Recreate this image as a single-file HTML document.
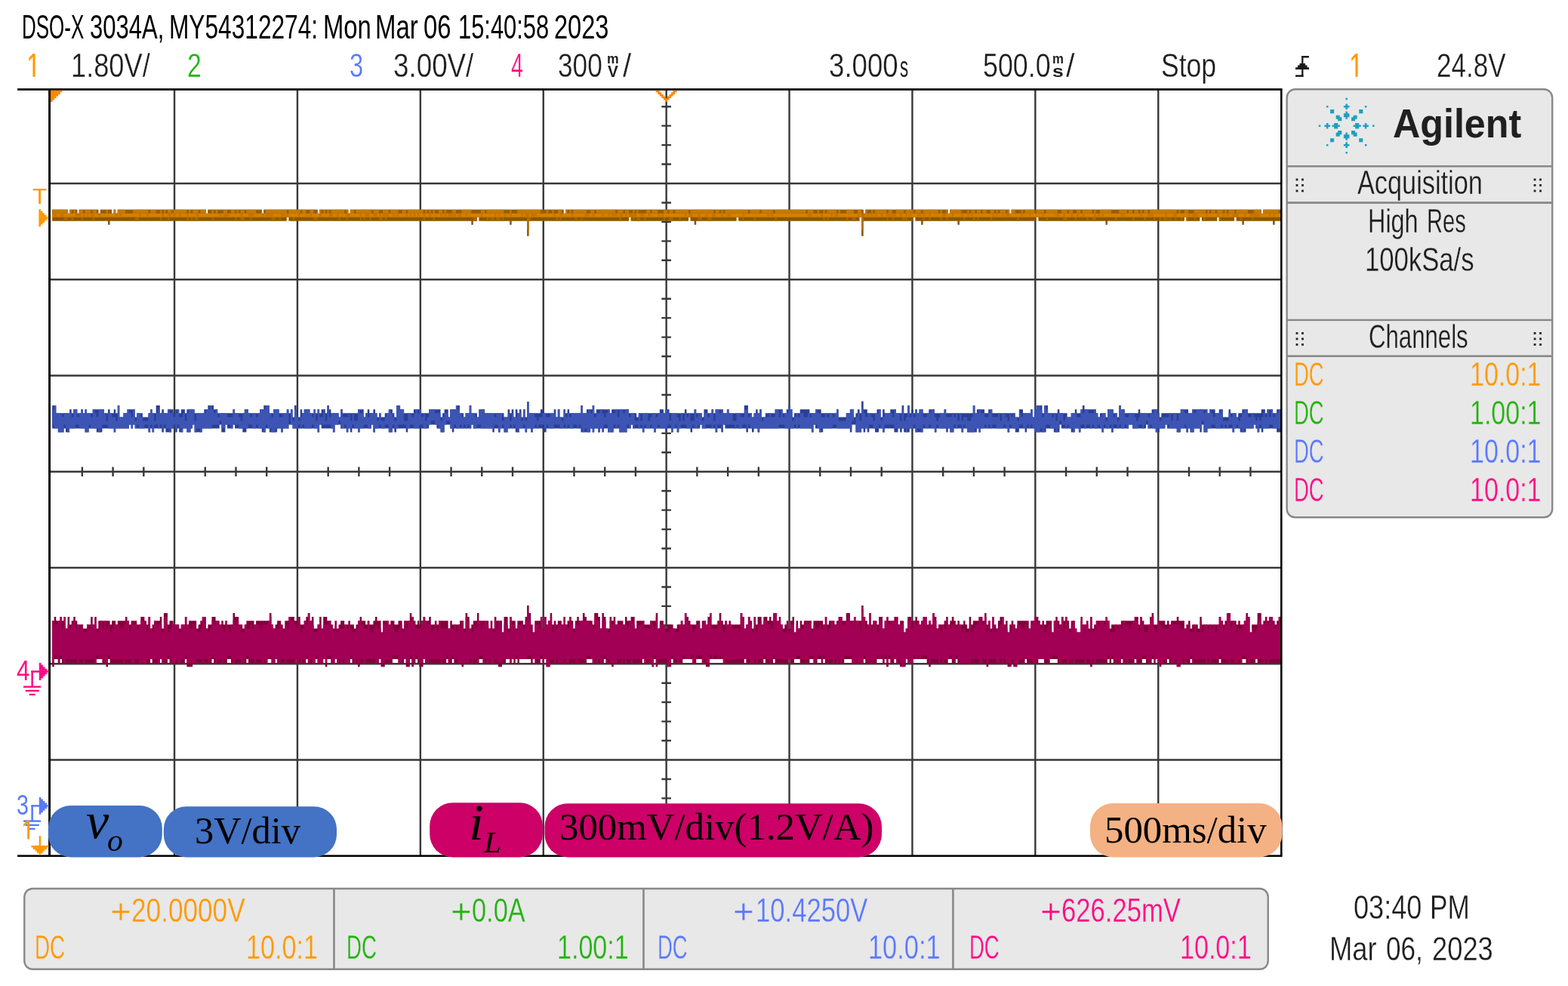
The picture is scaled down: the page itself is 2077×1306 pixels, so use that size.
<!DOCTYPE html>
<html lang="en">
<head>
<meta charset="utf-8">
<title>DSO-X 3034A</title>
<style>
html,body{margin:0;padding:0;background:#fff;}
body{width:2077px;height:1306px;overflow:hidden;position:relative;}
#scope{position:absolute;left:0;top:0;width:2077px;height:1306px;overflow:hidden;background:#fff;}
#scope svg{position:absolute;left:0;top:0;}
.t{position:absolute;white-space:pre;transform-origin:0 0;color:#1e1e1e;font-family:"Liberation Sans",sans-serif;font-weight:normal;}
.sb,.b{font-weight:bold;}
.r{font-family:"Liberation Serif",serif;}
.ri{font-family:"Liberation Serif",serif;font-style:italic;}
</style>
</head>
<body>
<div id="scope">
<svg width="2077" height="1306" viewBox="0 0 2077 1306">
<g id="panels">
<rect x="1704.6" y="118.3" width="351.6" height="567" rx="11" ry="11" fill="#e8e8e8" stroke="#888" stroke-width="2.4"/>
<rect x="1704" y="219" width="353" height="2.5" fill="#888"/>
<rect x="1704" y="267.1" width="353" height="2.8" fill="#888"/>
<rect x="1704" y="422.7" width="353" height="2.4" fill="#888"/>
<rect x="1704" y="470.4" width="353" height="2.6" fill="#888"/>
<rect x="32.3" y="1177" width="1647.4" height="106.8" rx="11" ry="11" fill="#e8e8e8" stroke="#888" stroke-width="2.4"/>
<rect x="441.15" y="1176.5" width="2.6" height="108" fill="#888"/>
<rect x="851.15" y="1176.5" width="2.6" height="108" fill="#888"/>
<rect x="1261.15" y="1176.5" width="2.6" height="108" fill="#888"/>
<g fill="#222"><rect x="1716.55" y="236.5" width="2.8" height="2.8"/><rect x="1716.55" y="244" width="2.8" height="2.8"/><rect x="1716.55" y="251.5" width="2.8" height="2.8"/><rect x="1724.05" y="236.5" width="2.8" height="2.8"/><rect x="1724.05" y="244" width="2.8" height="2.8"/><rect x="1724.05" y="251.5" width="2.8" height="2.8"/><rect x="2031.65" y="236.5" width="2.8" height="2.8"/><rect x="2031.65" y="244" width="2.8" height="2.8"/><rect x="2031.65" y="251.5" width="2.8" height="2.8"/><rect x="2039.15" y="236.5" width="2.8" height="2.8"/><rect x="2039.15" y="244" width="2.8" height="2.8"/><rect x="2039.15" y="251.5" width="2.8" height="2.8"/><rect x="1716.55" y="440" width="2.8" height="2.8"/><rect x="1716.55" y="447.5" width="2.8" height="2.8"/><rect x="1716.55" y="455" width="2.8" height="2.8"/><rect x="1724.05" y="440" width="2.8" height="2.8"/><rect x="1724.05" y="447.5" width="2.8" height="2.8"/><rect x="1724.05" y="455" width="2.8" height="2.8"/><rect x="2031.65" y="440" width="2.8" height="2.8"/><rect x="2031.65" y="447.5" width="2.8" height="2.8"/><rect x="2031.65" y="455" width="2.8" height="2.8"/><rect x="2039.15" y="440" width="2.8" height="2.8"/><rect x="2039.15" y="447.5" width="2.8" height="2.8"/><rect x="2039.15" y="455" width="2.8" height="2.8"/></g>
<path fill="#1f9fc1" d="M1759.47 167.97L1759.47 170.52L1756.93 170.52L1756.93 167.97L1754.38 167.97L1754.38 165.43L1756.93 165.43L1756.93 162.88L1759.47 162.88L1759.47 165.43L1762.02 165.43L1762.02 167.97ZM1792.56 165.43L1795.1 165.43L1795.1 162.88L1800.19 162.88L1800.19 165.43L1802.74 165.43L1802.74 167.97L1800.19 167.97L1800.19 170.52L1795.1 170.52L1795.1 167.97L1792.56 167.97ZM1797.65 152.7L1797.65 157.79L1795.1 157.79L1795.1 160.34L1790.01 160.34L1790.01 155.25L1792.56 155.25L1792.56 152.7ZM1756.93 190.88L1759.47 190.88L1759.47 193.42L1756.93 193.42ZM1795.1 175.61L1797.65 175.61L1797.65 180.7L1792.56 180.7L1792.56 178.15L1790.01 178.15L1790.01 173.06L1795.1 173.06ZM1767.11 170.52L1767.11 167.97L1764.56 167.97L1764.56 165.43L1767.11 165.43L1767.11 162.88L1772.2 162.88L1772.2 165.43L1774.74 165.43L1774.74 167.97L1772.2 167.97L1772.2 170.52ZM1746.75 165.43L1749.29 165.43L1749.29 167.97L1746.75 167.97ZM1784.92 150.16L1787.47 150.16L1787.47 155.25L1784.92 155.25L1784.92 157.79L1782.38 157.79L1782.38 155.25L1779.83 155.25L1779.83 150.16L1782.38 150.16L1782.38 147.61L1784.92 147.61ZM1762.02 145.07L1767.11 145.07L1767.11 150.16L1762.02 150.16ZM1782.38 201.06L1784.92 201.06L1784.92 203.6L1782.38 203.6ZM1774.74 152.7L1774.74 155.25L1777.29 155.25L1777.29 160.34L1772.2 160.34L1772.2 157.79L1769.65 157.79L1769.65 152.7ZM1784.92 193.42L1784.92 195.97L1782.38 195.97L1782.38 193.42L1779.83 193.42L1779.83 190.88L1782.38 190.88L1782.38 188.33L1784.92 188.33L1784.92 190.88L1787.47 190.88L1787.47 193.42ZM1818.01 165.43L1820.55 165.43L1820.55 167.97L1818.01 167.97ZM1805.28 150.16L1800.19 150.16L1800.19 145.07L1805.28 145.07ZM1807.83 139.98L1810.37 139.98L1810.37 142.52L1807.83 142.52ZM1782.38 137.43L1784.92 137.43L1784.92 139.98L1787.47 139.98L1787.47 142.52L1784.92 142.52L1784.92 145.07L1782.38 145.07L1782.38 142.52L1779.83 142.52L1779.83 139.98L1782.38 139.98ZM1769.65 180.7L1769.65 175.61L1772.2 175.61L1772.2 173.06L1777.29 173.06L1777.29 178.15L1774.74 178.15L1774.74 180.7ZM1784.92 183.24L1784.92 185.79L1782.38 185.79L1782.38 183.24L1779.83 183.24L1779.83 178.15L1782.38 178.15L1782.38 175.61L1784.92 175.61L1784.92 178.15L1787.47 178.15L1787.47 183.24ZM1805.28 188.33L1800.19 188.33L1800.19 183.24L1805.28 183.24ZM1756.93 139.98L1759.47 139.98L1759.47 142.52L1756.93 142.52ZM1767.11 183.24L1767.11 188.33L1762.02 188.33L1762.02 183.24ZM1810.37 165.43L1812.92 165.43L1812.92 167.97L1810.37 167.97L1810.37 170.52L1807.83 170.52L1807.83 167.97L1805.28 167.97L1805.28 165.43L1807.83 165.43L1807.83 162.88L1810.37 162.88ZM1782.38 129.8L1784.92 129.8L1784.92 132.34L1782.38 132.34ZM1807.83 190.88L1810.37 190.88L1810.37 193.42L1807.83 193.42Z"/>
</g>
<g id="grid">
<g stroke="#383838" stroke-width="2.4" fill="none">
<path d="M231.05 118.45V1133.65M393.95 118.45V1133.65M556.85 118.45V1133.65M719.75 118.45V1133.65M882.65 118.45V1133.65M1045.55 118.45V1133.65M1208.45 118.45V1133.65M1371.35 118.45V1133.65M1534.25 118.45V1133.65M65.55 243H1697.3M65.55 370.25H1697.3M65.55 497.5H1697.3M65.55 624.75H1697.3M65.55 752H1697.3M65.55 879.25H1697.3M65.55 1006.5H1697.3"/>
<path d="M876.35 599.3H888.95M876.35 573.85H888.95M876.35 548.4H888.95M876.35 522.95H888.95M876.35 472.05H888.95M876.35 446.6H888.95M876.35 421.15H888.95M876.35 395.7H888.95M876.35 344.8H888.95M876.35 319.35H888.95M876.35 293.9H888.95M876.35 268.45H888.95M876.35 217.55H888.95M876.35 192.1H888.95M876.35 166.65H888.95M876.35 141.2H888.95M876.35 650.2H888.95M876.35 675.65H888.95M876.35 701.1H888.95M876.35 726.55H888.95M876.35 777.45H888.95M876.35 802.9H888.95M876.35 828.35H888.95M876.35 853.8H888.95M876.35 904.7H888.95M876.35 930.15H888.95M876.35 955.6H888.95M876.35 981.05H888.95M876.35 1031.95H888.95M876.35 1057.4H888.95M876.35 1082.85H888.95M876.35 1108.3H888.95M841.93 618.5V631M801.2 618.5V631M760.48 618.5V631M679.02 618.5V631M638.3 618.5V631M597.57 618.5V631M516.12 618.5V631M475.4 618.5V631M434.67 618.5V631M353.22 618.5V631M312.5 618.5V631M271.77 618.5V631M190.32 618.5V631M149.6 618.5V631M108.87 618.5V631M923.38 618.5V631M964.1 618.5V631M1004.83 618.5V631M1086.28 618.5V631M1127 618.5V631M1167.72 618.5V631M1249.17 618.5V631M1289.9 618.5V631M1330.62 618.5V631M1412.07 618.5V631M1452.8 618.5V631M1493.52 618.5V631M1574.97 618.5V631M1615.7 618.5V631M1656.42 618.5V631"/>
</g>
</g>
<g id="waves">
<path d="M69.2 277.7H89.6V282.7H92.1V277.7H102.3V282.7H104.8V277.7H130.3V282.7H132.9V277.7H148.1V282.7H150.7V277.7H153.2V282.7H155.8V277.7H272.9V282.7H275.4V277.7H346.7V282.7H349.3V277.7H420.6V282.7H423.1V277.7H461.3V282.7H463.9V277.7H746.5V282.7H749V277.7H1143.7V282.7H1146.2V277.7H1255.7V282.7H1258.3V277.7H1337.2V282.7H1339.7V277.7H1670.7V282.7H1673.3V277.7H1696.2V292.7H1688.6V297.8H1686V292.7H1647.8V297.8H1645.3V292.7H1637.6V287.7H1635.1V292.7H1614.7V287.7H1612.2V292.7H1591.8V287.7H1589.3V292.7H1571.4V287.7H1568.9V292.7H1467V297.8H1464.5V292.7H1375.4V287.7H1372.8V292.7H1271V297.8H1268.4V292.7H1222.6V297.8H1220.1V292.7H1212.4V287.7H1209.9V292.7H1143.7V312.7H1141.1V287.7H1138.6V292.7H978.2V287.7H975.6V292.7H922.2V297.8H919.6V292.7H914.5V287.7H912V292.7H835.6V287.7H833V292.7H700.6V312.7H698.1V292.7H677.7V297.8H675.2V292.7H634.4V287.7H631.9V292.7H626.8V297.8H624.3V292.7H382.4V287.7H379.8V292.7H145.6V297.8H143V292.7H69.2Z" fill="#8e5600"/>
<path d="M69.2 277.7H89.6V282.7H69.2ZM92.1 277.7H102.3V282.7H92.1ZM104.8 277.7H130.3V282.7H104.8ZM132.9 277.7H148.1V282.7H132.9ZM150.7 277.7H153.2V282.7H150.7ZM155.8 277.7H272.9V282.7H155.8ZM275.4 277.7H346.7V282.7H275.4ZM349.3 277.7H420.6V282.7H349.3ZM423.1 277.7H461.3V282.7H423.1ZM463.9 277.7H746.5V282.7H463.9ZM749 277.7H1143.7V282.7H749ZM1146.2 277.7H1255.7V282.7H1146.2ZM1258.3 277.7H1337.2V282.7H1258.3ZM1339.7 277.7H1670.7V282.7H1339.7ZM1673.3 277.7H1696.2V282.7H1673.3Z" fill="#9a5c00"/>
<path d="M69.2 277.7H89.6V282.7H69.2ZM92.1 277.7H94.7V282.7H92.1ZM97.2 277.7H99.8V282.7H97.2ZM104.8 277.7H109.9V282.7H104.8ZM112.5 277.7H120.1V282.7H112.5ZM122.7 277.7H127.8V282.7H122.7ZM140.5 277.7H143V282.7H140.5ZM150.7 277.7H153.2V282.7H150.7ZM155.8 277.7H166V282.7H155.8ZM176.1 277.7H196.5V282.7H176.1ZM199.1 277.7H206.7V282.7H199.1ZM211.8 277.7H214.3V282.7H211.8ZM216.9 277.7H219.4V282.7H216.9ZM222 277.7H227.1V282.7H222ZM229.6 277.7H247.4V282.7H229.6ZM250 277.7H252.5V282.7H250ZM255.1 277.7H262.7V282.7H255.1ZM265.3 277.7H272.9V282.7H265.3ZM280.5 277.7H283.1V282.7H280.5ZM285.6 277.7H288.2V282.7H285.6ZM295.8 277.7H300.9V282.7H295.8ZM306 277.7H311.1V282.7H306ZM313.6 277.7H316.2V282.7H313.6ZM318.7 277.7H323.8V282.7H318.7ZM326.4 277.7H339.1V282.7H326.4ZM351.8 277.7H379.8V282.7H351.8ZM382.4 277.7H397.7V282.7H382.4ZM400.2 277.7H405.3V282.7H400.2ZM410.4 277.7H415.5V282.7H410.4ZM423.1 277.7H425.7V282.7H423.1ZM428.2 277.7H430.8V282.7H428.2ZM433.3 277.7H435.8V282.7H433.3ZM438.4 277.7H456.2V282.7H438.4ZM458.8 277.7H461.3V282.7H458.8ZM463.9 277.7H468.9V282.7H463.9ZM471.5 277.7H491.9V282.7H471.5ZM494.4 277.7H502V282.7H494.4ZM507.1 277.7H514.8V282.7H507.1ZM517.3 277.7H527.5V282.7H517.3ZM532.6 277.7H537.7V282.7H532.6ZM540.2 277.7H560.6V282.7H540.2ZM563.2 277.7H565.7V282.7H563.2ZM568.2 277.7H570.8V282.7H568.2ZM573.3 277.7H575.9V282.7H573.3ZM581 277.7H586.1V282.7H581ZM588.6 277.7H591.2V282.7H588.6ZM598.8 277.7H603.9V282.7H598.8ZM611.5 277.7H624.3V282.7H611.5ZM637 277.7H642.1V282.7H637ZM644.6 277.7H667.5V282.7H644.6ZM675.2 277.7H677.7V282.7H675.2ZM685.4 277.7H715.9V282.7H685.4ZM723.6 277.7H726.1V282.7H723.6ZM731.2 277.7H733.7V282.7H731.2ZM738.8 277.7H743.9V282.7H738.8ZM749 277.7H751.6V282.7H749ZM754.1 277.7H756.7V282.7H754.1ZM759.2 277.7H777V282.7H759.2ZM782.1 277.7H787.2V282.7H782.1ZM789.8 277.7H815.2V282.7H789.8ZM817.8 277.7H825.4V282.7H817.8ZM828 277.7H833V282.7H828ZM838.1 277.7H840.7V282.7H838.1ZM843.2 277.7H845.8V282.7H843.2ZM856 277.7H861.1V282.7H856ZM863.6 277.7H871.2V282.7H863.6ZM878.9 277.7H884V282.7H878.9ZM886.5 277.7H891.6V282.7H886.5ZM894.2 277.7H912V282.7H894.2ZM914.5 277.7H945.1V282.7H914.5ZM947.6 277.7H952.7V282.7H947.6ZM955.3 277.7H957.8V282.7H955.3ZM960.4 277.7H990.9V282.7H960.4ZM993.5 277.7H1006.2V282.7H993.5ZM1008.7 277.7H1024V282.7H1008.7ZM1026.6 277.7H1067.3V282.7H1026.6ZM1069.8 277.7H1077.5V282.7H1069.8ZM1082.6 277.7H1085.1V282.7H1082.6ZM1090.2 277.7H1092.8V282.7H1090.2ZM1095.3 277.7H1108V282.7H1095.3ZM1110.6 277.7H1113.1V282.7H1110.6ZM1120.8 277.7H1131V282.7H1120.8ZM1136 277.7H1141.1V282.7H1136ZM1146.2 277.7H1148.8V282.7H1146.2ZM1153.9 277.7H1156.4V282.7H1153.9ZM1159 277.7H1174.2V282.7H1159ZM1176.8 277.7H1181.9V282.7H1176.8ZM1187 277.7H1197.2V282.7H1187ZM1199.7 277.7H1209.9V282.7H1199.7ZM1212.4 277.7H1220.1V282.7H1212.4ZM1222.6 277.7H1243V282.7H1222.6ZM1245.5 277.7H1248.1V282.7H1245.5ZM1253.2 277.7H1255.7V282.7H1253.2ZM1258.3 277.7H1273.5V282.7H1258.3ZM1281.2 277.7H1283.7V282.7H1281.2ZM1286.3 277.7H1291.4V282.7H1286.3ZM1293.9 277.7H1299V282.7H1293.9ZM1301.5 277.7H1306.6V282.7H1301.5ZM1311.7 277.7H1316.8V282.7H1311.7ZM1319.4 277.7H1321.9V282.7H1319.4ZM1324.5 277.7H1332.1V282.7H1324.5ZM1334.6 277.7H1337.2V282.7H1334.6ZM1339.7 277.7H1344.8V282.7H1339.7ZM1352.5 277.7H1355V282.7H1352.5ZM1357.6 277.7H1370.3V282.7H1357.6ZM1372.8 277.7H1383V282.7H1372.8ZM1385.6 277.7H1400.8V282.7H1385.6ZM1405.9 277.7H1413.6V282.7H1405.9ZM1416.1 277.7H1421.2V282.7H1416.1ZM1426.3 277.7H1431.4V282.7H1426.3ZM1433.9 277.7H1446.7V282.7H1433.9ZM1449.2 277.7H1451.8V282.7H1449.2ZM1456.9 277.7H1472.1V282.7H1456.9ZM1482.3 277.7H1492.5V282.7H1482.3ZM1495.1 277.7H1500.1V282.7H1495.1ZM1502.7 277.7H1507.8V282.7H1502.7ZM1510.3 277.7H1512.9V282.7H1510.3ZM1515.4 277.7H1520.5V282.7H1515.4ZM1523.1 277.7H1558.7V282.7H1523.1ZM1561.3 277.7H1563.8V282.7H1561.3ZM1568.9 277.7H1574V282.7H1568.9ZM1581.6 277.7H1596.9V282.7H1581.6ZM1599.4 277.7H1602V282.7H1599.4ZM1604.5 277.7H1609.6V282.7H1604.5ZM1612.2 277.7H1619.8V282.7H1612.2ZM1622.4 277.7H1624.9V282.7H1622.4ZM1627.5 277.7H1635.1V282.7H1627.5ZM1637.6 277.7H1652.9V282.7H1637.6ZM1660.6 277.7H1670.7V282.7H1660.6ZM1673.3 277.7H1693.7V282.7H1673.3Z" fill="#c67800"/>
<path d="M84.5 287.7H89.6V292.7H84.5ZM94.7 287.7H97.2V292.7H94.7ZM107.4 287.7H109.9V292.7H107.4ZM122.7 287.7H125.2V292.7H122.7ZM178.7 287.7H183.8V292.7H178.7ZM211.8 287.7H214.3V292.7H211.8ZM222 287.7H224.5V292.7H222ZM247.4 287.7H250V292.7H247.4ZM252.5 287.7H255.1V292.7H252.5ZM257.6 287.7H262.7V292.7H257.6ZM280.5 287.7H283.1V292.7H280.5ZM311.1 287.7H313.6V292.7H311.1ZM318.7 287.7H323.8V292.7H318.7ZM331.5 287.7H334V292.7H331.5ZM359.5 287.7H364.6V292.7H359.5ZM369.6 287.7H372.2V292.7H369.6ZM387.5 287.7H390V292.7H387.5ZM415.5 287.7H420.6V292.7H415.5ZM448.6 287.7H451.1V292.7H448.6ZM458.8 287.7H461.3V292.7H458.8ZM476.6 287.7H479.1V292.7H476.6ZM481.7 287.7H484.2V292.7H481.7ZM489.3 287.7H491.9V292.7H489.3ZM502 287.7H507.1V292.7H502ZM509.7 287.7H512.2V292.7H509.7ZM560.6 287.7H563.2V292.7H560.6ZM573.3 287.7H575.9V292.7H573.3ZM626.8 287.7H631.9V292.7H626.8ZM644.6 287.7H647.2V292.7H644.6ZM649.7 287.7H654.8V292.7H649.7ZM657.4 287.7H662.5V292.7H657.4ZM665 287.7H667.5V292.7H665ZM700.6 287.7H703.2V292.7H700.6ZM736.3 287.7H738.8V292.7H736.3ZM741.4 287.7H743.9V292.7H741.4ZM761.8 287.7H764.3V292.7H761.8ZM769.4 287.7H771.9V292.7H769.4ZM820.3 287.7H822.9V292.7H820.3ZM838.1 287.7H840.7V292.7H838.1ZM843.2 287.7H848.3V292.7H843.2ZM853.4 287.7H856V292.7H853.4ZM878.9 287.7H881.4V292.7H878.9ZM886.5 287.7H891.6V292.7H886.5ZM899.3 287.7H901.8V292.7H899.3ZM924.7 287.7H929.8V292.7H924.7ZM937.4 287.7H942.5V292.7H937.4ZM983.3 287.7H985.8V292.7H983.3ZM998.6 287.7H1001.1V292.7H998.6ZM1026.6 287.7H1029.1V292.7H1026.6ZM1090.2 287.7H1092.8V292.7H1090.2ZM1095.3 287.7H1097.9V292.7H1095.3ZM1120.8 287.7H1123.3V292.7H1120.8ZM1128.4 287.7H1133.5V292.7H1128.4ZM1174.2 287.7H1176.8V292.7H1174.2ZM1181.9 287.7H1184.4V292.7H1181.9ZM1194.6 287.7H1202.2V292.7H1194.6ZM1222.6 287.7H1225.2V292.7H1222.6ZM1230.3 287.7H1232.8V292.7H1230.3ZM1245.5 287.7H1248.1V292.7H1245.5ZM1253.2 287.7H1255.7V292.7H1253.2ZM1276.1 287.7H1278.6V292.7H1276.1ZM1288.8 287.7H1291.4V292.7H1288.8ZM1293.9 287.7H1296.5V292.7H1293.9ZM1311.7 287.7H1314.3V292.7H1311.7ZM1347.4 287.7H1349.9V292.7H1347.4ZM1385.6 287.7H1388.1V292.7H1385.6ZM1408.5 287.7H1413.6V292.7H1408.5ZM1423.8 287.7H1426.3V292.7H1423.8ZM1439 287.7H1441.6V292.7H1439ZM1446.7 287.7H1451.8V292.7H1446.7ZM1477.2 287.7H1479.8V292.7H1477.2ZM1500.1 287.7H1502.7V292.7H1500.1ZM1515.4 287.7H1518V292.7H1515.4ZM1528.2 287.7H1530.7V292.7H1528.2ZM1535.8 287.7H1538.3V292.7H1535.8ZM1540.9 287.7H1546V292.7H1540.9ZM1548.5 287.7H1551.1V292.7H1548.5ZM1556.2 287.7H1558.7V292.7H1556.2ZM1563.8 287.7H1566.3V292.7H1563.8ZM1571.4 287.7H1574V292.7H1571.4ZM1581.6 287.7H1584.2V292.7H1581.6ZM1594.4 287.7H1596.9V292.7H1594.4ZM1614.7 287.7H1617.3V292.7H1614.7ZM1642.7 287.7H1645.3V292.7H1642.7ZM1658 287.7H1660.6V292.7H1658Z" fill="#a86600"/>
<rect x="69.2" y="282.7" width="1627" height="5" fill="#d48000"/>
<path d="M71.7 282.7H74.3V287.7H71.7ZM79.4 282.7H84.5V287.7H79.4ZM99.8 282.7H107.4V287.7H99.8ZM109.9 282.7H112.5V287.7H109.9ZM115 282.7H117.6V287.7H115ZM120.1 282.7H125.2V287.7H120.1ZM130.3 282.7H132.9V287.7H130.3ZM153.2 282.7H155.8V287.7H153.2ZM158.3 282.7H160.9V287.7H158.3ZM183.8 282.7H186.3V287.7H183.8ZM194 282.7H196.5V287.7H194ZM214.3 282.7H216.9V287.7H214.3ZM222 282.7H227.1V287.7H222ZM229.6 282.7H232.2V287.7H229.6ZM237.2 282.7H239.8V287.7H237.2ZM247.4 282.7H250V287.7H247.4ZM260.2 282.7H262.7V287.7H260.2ZM290.7 282.7H293.3V287.7H290.7ZM295.8 282.7H303.4V287.7H295.8ZM318.7 282.7H321.3V287.7H318.7ZM328.9 282.7H336.5V287.7H328.9ZM346.7 282.7H349.3V287.7H346.7ZM351.8 282.7H362V287.7H351.8ZM372.2 282.7H377.3V287.7H372.2ZM379.8 282.7H382.4V287.7H379.8ZM395.1 282.7H397.7V287.7H395.1ZM405.3 282.7H407.8V287.7H405.3ZM410.4 282.7H412.9V287.7H410.4ZM423.1 282.7H425.7V287.7H423.1ZM435.8 282.7H440.9V287.7H435.8ZM446 282.7H448.6V287.7H446ZM458.8 282.7H463.9V287.7H458.8ZM476.6 282.7H479.1V287.7H476.6ZM484.2 282.7H489.3V287.7H484.2ZM494.4 282.7H499.5V287.7H494.4ZM502 282.7H504.6V287.7H502ZM507.1 282.7H514.8V287.7H507.1ZM519.9 282.7H522.4V287.7H519.9ZM525 282.7H527.5V287.7H525ZM537.7 282.7H540.2V287.7H537.7ZM542.8 282.7H545.3V287.7H542.8ZM547.9 282.7H550.4V287.7H547.9ZM553 282.7H555.5V287.7H553ZM560.6 282.7H563.2V287.7H560.6ZM568.2 282.7H570.8V287.7H568.2ZM583.5 282.7H586.1V287.7H583.5ZM588.6 282.7H591.2V287.7H588.6ZM593.7 282.7H603.9V287.7H593.7ZM606.4 282.7H611.5V287.7H606.4ZM616.6 282.7H619.2V287.7H616.6ZM637 282.7H639.5V287.7H637ZM654.8 282.7H657.4V287.7H654.8ZM659.9 282.7H662.5V287.7H659.9ZM667.5 282.7H670.1V287.7H667.5ZM675.2 282.7H677.7V287.7H675.2ZM690.5 282.7H693V287.7H690.5ZM695.6 282.7H698.1V287.7H695.6ZM703.2 282.7H710.8V287.7H703.2ZM733.7 282.7H736.3V287.7H733.7ZM741.4 282.7H743.9V287.7H741.4ZM756.7 282.7H759.2V287.7H756.7ZM774.5 282.7H779.6V287.7H774.5ZM784.7 282.7H787.2V287.7H784.7ZM797.4 282.7H799.9V287.7H797.4ZM805 282.7H807.6V287.7H805ZM810.1 282.7H817.8V287.7H810.1ZM820.3 282.7H825.4V287.7H820.3ZM828 282.7H830.5V287.7H828ZM833 282.7H843.2V287.7H833ZM848.3 282.7H853.4V287.7H848.3ZM858.5 282.7H861.1V287.7H858.5ZM871.2 282.7H873.8V287.7H871.2ZM876.3 282.7H878.9V287.7H876.3ZM906.9 282.7H909.4V287.7H906.9ZM912 282.7H917.1V287.7H912ZM924.7 282.7H927.3V287.7H924.7ZM934.9 282.7H937.4V287.7H934.9ZM942.5 282.7H947.6V287.7H942.5ZM955.3 282.7H957.8V287.7H955.3ZM962.9 282.7H968V287.7H962.9ZM983.3 282.7H985.8V287.7H983.3ZM1016.4 282.7H1018.9V287.7H1016.4ZM1021.5 282.7H1024V287.7H1021.5ZM1069.8 282.7H1074.9V287.7H1069.8ZM1087.7 282.7H1090.2V287.7H1087.7ZM1100.4 282.7H1102.9V287.7H1100.4ZM1105.5 282.7H1110.6V287.7H1105.5ZM1136 282.7H1138.6V287.7H1136ZM1141.1 282.7H1146.2V287.7H1141.1ZM1148.8 282.7H1151.3V287.7H1148.8ZM1153.9 282.7H1156.4V287.7H1153.9ZM1159 282.7H1161.5V287.7H1159ZM1166.6 282.7H1169.1V287.7H1166.6ZM1174.2 282.7H1187V287.7H1174.2ZM1192.1 282.7H1194.6V287.7H1192.1ZM1199.7 282.7H1202.2V287.7H1199.7ZM1204.8 282.7H1207.3V287.7H1204.8ZM1215 282.7H1220.1V287.7H1215ZM1222.6 282.7H1225.2V287.7H1222.6ZM1230.3 282.7H1232.8V287.7H1230.3ZM1248.1 282.7H1253.2V287.7H1248.1ZM1260.8 282.7H1263.4V287.7H1260.8ZM1273.5 282.7H1276.1V287.7H1273.5ZM1281.2 282.7H1283.7V287.7H1281.2ZM1286.3 282.7H1288.8V287.7H1286.3ZM1314.3 282.7H1316.8V287.7H1314.3ZM1319.4 282.7H1321.9V287.7H1319.4ZM1327 282.7H1329.6V287.7H1327ZM1332.1 282.7H1337.2V287.7H1332.1ZM1352.5 282.7H1355V287.7H1352.5ZM1362.7 282.7H1365.2V287.7H1362.7ZM1380.5 282.7H1383V287.7H1380.5ZM1398.3 282.7H1403.4V287.7H1398.3ZM1408.5 282.7H1411V287.7H1408.5ZM1418.7 282.7H1421.2V287.7H1418.7ZM1426.3 282.7H1428.9V287.7H1426.3ZM1433.9 282.7H1436.5V287.7H1433.9ZM1449.2 282.7H1451.8V287.7H1449.2ZM1454.3 282.7H1456.9V287.7H1454.3ZM1459.4 282.7H1462V287.7H1459.4ZM1484.9 282.7H1490V287.7H1484.9ZM1510.3 282.7H1512.9V287.7H1510.3ZM1520.5 282.7H1528.2V287.7H1520.5ZM1543.4 282.7H1546V287.7H1543.4ZM1553.6 282.7H1558.7V287.7H1553.6ZM1574 282.7H1576.5V287.7H1574ZM1579.1 282.7H1586.7V287.7H1579.1ZM1596.9 282.7H1599.4V287.7H1596.9ZM1612.2 282.7H1614.7V287.7H1612.2ZM1619.8 282.7H1622.4V287.7H1619.8ZM1624.9 282.7H1627.5V287.7H1624.9ZM1632.5 282.7H1640.2V287.7H1632.5ZM1647.8 282.7H1650.4V287.7H1647.8ZM1655.5 282.7H1668.2V287.7H1655.5ZM1680.9 282.7H1683.5V287.7H1680.9ZM1686 282.7H1688.6V287.7H1686Z" fill="#c27500"/>
<rect x="698.1" y="282.7" width="2.5" height="22" fill="#b86e00"/>
<rect x="1141.1" y="282.7" width="2.5" height="22" fill="#b86e00"/>
<path d="M69.2 537.1H74.3V547.3H92.1V542.2H94.7V547.3H97.2V542.2H102.3V547.3H107.4V542.2H109.9V547.3H112.5V542.2H115V547.3H122.7V542.2H137.9V547.3H143V542.2H145.6V547.3H150.7V542.2H153.2V547.3H155.8V537.1H158.3V552.4H163.4V547.3H168.5V542.2H178.7V552.4H181.2V547.3H188.9V552.4H196.5V547.3H199.1V542.2H201.6V547.3H206.7V537.1H211.8V547.3H214.3V542.2H216.9V547.3H222V542.2H229.6V547.3H232.2V542.2H237.2V547.3H239.8V542.2H244.9V547.3H247.4V542.2H257.6V547.3H270.3V542.2H275.4V537.1H283.1V542.2H288.2V547.3H308.5V542.2H311.1V547.3H323.8V542.2H328.9V547.3H344.2V542.2H349.3V537.1H356.9V547.3H362V542.2H369.6V547.3H379.8V542.2H382.4V547.3H384.9V542.2H387.5V552.4H390V537.1H392.6V552.4H397.7V542.2H400.2V547.3H402.7V542.2H410.4V547.3H415.5V542.2H418V547.3H420.6V542.2H423.1V547.3H425.7V542.2H430.8V547.3H433.3V537.1H435.8V542.2H438.4V547.3H448.6V552.4H451.1V542.2H453.7V547.3H474V542.2H481.7V552.4H484.2V547.3H486.8V542.2H489.3V547.3H494.4V542.2H497V547.3H499.5V552.4H502V547.3H504.6V552.4H509.7V547.3H514.8V542.2H519.9V547.3H522.4V552.4H525V537.1H530.1V542.2H535.1V547.3H547.9V542.2H558.1V547.3H568.2V542.2H583.5V552.4H586.1V547.3H588.6V542.2H593.7V552.4H596.3V542.2H603.9V537.1H609V547.3H614.1V552.4H616.6V547.3H621.7V537.1H624.3V547.3H631.9V552.4H634.4V542.2H642.1V547.3H667.5V552.4H672.6V542.2H675.2V547.3H677.7V542.2H680.3V552.4H682.8V542.2H685.4V547.3H687.9V542.2H690.5V552.4H693V542.2H695.6V552.4H698.1V532H700.6V547.3H715.9V542.2H721V547.3H733.7V542.2H736.3V552.4H738.8V542.2H741.4V552.4H746.5V542.2H749V547.3H751.6V542.2H754.1V547.3H769.4V537.1H771.9V547.3H777V542.2H784.7V537.1H787.2V547.3H789.8V542.2H807.6V547.3H810.1V542.2H833V547.3H843.2V552.4H845.8V547.3H873.8V542.2H878.9V547.3H881.4V542.2H886.5V547.3H906.9V542.2H909.4V547.3H919.6V542.2H922.2V547.3H929.8V552.4H932.4V542.2H937.4V547.3H942.5V542.2H945.1V547.3H947.6V542.2H957.8V547.3H962.9V542.2H965.5V547.3H985.8V537.1H990.9V547.3H996V552.4H998.6V547.3H1001.1V542.2H1003.6V547.3H1006.2V542.2H1008.7V552.4H1013.8V547.3H1026.6V542.2H1036.7V547.3H1041.8V542.2H1044.4V537.1H1046.9V542.2H1049.5V552.4H1052V547.3H1059.7V542.2H1072.4V547.3H1080V542.2H1087.7V547.3H1108V542.2H1110.6V552.4H1120.8V547.3H1125.9V542.2H1131V552.4H1133.5V547.3H1136V542.2H1138.6V547.3H1141.1V531.5H1143.7V542.2H1148.8V547.3H1161.5V542.2H1166.6V552.4H1169.1V542.2H1171.7V547.3H1179.3V542.2H1187V547.3H1194.6V537.1H1197.2V547.3H1202.2V537.1H1204.8V547.3H1207.3V542.2H1209.9V547.3H1212.4V542.2H1215V547.3H1217.5V542.2H1222.6V547.3H1230.3V542.2H1237.9V547.3H1250.6V542.2H1253.2V547.3H1288.8V537.1H1291.4V547.3H1293.9V542.2H1304.1V547.3H1309.2V542.2H1314.3V547.3H1344.8V552.4H1349.9V542.2H1355V547.3H1365.2V542.2H1367.7V552.4H1370.3V542.2H1372.8V537.1H1380.5V547.3H1383V537.1H1388.1V547.3H1400.8V542.2H1403.4V547.3H1413.6V552.4H1418.7V547.3H1423.8V542.2H1426.3V547.3H1431.4V542.2H1433.9V537.1H1436.5V542.2H1451.8V547.3H1454.3V552.4H1456.9V547.3H1464.5V552.4H1467V542.2H1474.7V547.3H1479.8V552.4H1482.3V537.1H1484.9V542.2H1490V547.3H1507.8V542.2H1510.3V547.3H1525.6V542.2H1533.2V547.3H1535.8V552.4H1538.3V547.3H1563.8V542.2H1574V547.3H1579.1V542.2H1599.4V547.3H1602V542.2H1609.6V547.3H1614.7V542.2H1619.8V552.4H1627.5V542.2H1630V547.3H1637.6V552.4H1640.2V547.3H1645.3V542.2H1652.9V547.3H1670.7V542.2H1675.8V547.3H1678.4V542.2H1686V547.3H1691.1V542.2H1696.2V572.6H1691.1V567.5H1673.3V572.6H1670.7V567.5H1668.2V572.6H1665.6V567.5H1663.1V562.4H1660.6V567.5H1650.4V572.6H1642.7V567.5H1635.1V572.6H1632.5V567.5H1599.4V572.6H1594.4V562.4H1591.8V572.6H1589.3V567.5H1581.6V572.6H1576.5V567.5H1574V572.6H1571.4V567.5H1563.8V572.6H1558.7V567.5H1546V562.4H1543.4V567.5H1535.8V572.6H1530.7V567.5H1520.5V562.4H1518V567.5H1500.1V562.4H1495.1V567.5H1474.7V572.6H1472.1V567.5H1462V572.6H1459.4V567.5H1431.4V572.6H1428.9V567.5H1423.8V572.6H1418.7V567.5H1405.9V562.4H1403.4V572.6H1395.8V567.5H1385.6V572.6H1370.3V567.5H1360.1V572.6H1357.6V567.5H1349.9V572.6H1344.8V567.5H1337.2V572.6H1334.6V567.5H1299V572.6H1296.5V567.5H1293.9V572.6H1281.2V567.5H1276.1V572.6H1273.5V567.5H1263.4V572.6H1258.3V567.5H1255.7V572.6H1253.2V567.5H1240.4V572.6H1237.9V567.5H1222.6V572.6H1212.4V567.5H1204.8V572.6H1197.2V567.5H1194.6V572.6H1192.1V567.5H1189.5V572.6H1184.4V567.5H1171.7V572.6H1169.1V567.5H1164.1V572.6H1159V567.5H1151.3V572.6H1148.8V567.5H1146.2V572.6H1143.7V567.5H1141.1V572.6H1133.5V562.4H1128.4V572.6H1125.9V567.5H1090.2V572.6H1085.1V567.5H1080V562.4H1077.5V572.6H1074.9V567.5H1006.2V572.6H1003.6V567.5H998.6V572.6H996V567.5H990.9V572.6H988.4V567.5H960.4V562.4H957.8V572.6H955.3V567.5H950.2V572.6H947.6V567.5H929.8V562.4H927.3V567.5H917.1V572.6H914.5V567.5H899.3V572.6H896.7V567.5H891.6V572.6H889.1V567.5H884V572.6H881.4V567.5H868.7V572.6H866.1V567.5H853.4V572.6H850.9V567.5H838.1V562.4H835.6V567.5H830.5V572.6H820.3V567.5H812.7V572.6H805V567.5H799.9V572.6H797.4V567.5H794.9V572.6H792.3V567.5H787.2V572.6H784.7V567.5H782.1V572.6H769.4V567.5H723.6V572.6H721V567.5H705.7V572.6H703.2V567.5H698.1V572.6H695.6V567.5H687.9V572.6H682.8V567.5H672.6V572.6H667.5V567.5H662.5V572.6H659.9V567.5H654.8V572.6H652.3V567.5H626.8V562.4H624.3V567.5H601.3V572.6H598.8V567.5H596.3V562.4H588.6V572.6H583.5V567.5H578.4V562.4H568.2V567.5H540.2V572.6H537.7V567.5H525V572.6H522.4V567.5H519.9V572.6H514.8V567.5H497V572.6H494.4V562.4H491.9V567.5H476.6V572.6H474V567.5H466.4V572.6H463.9V567.5H461.3V572.6H458.8V567.5H451.1V562.4H443.5V572.6H440.9V567.5H425.7V562.4H423.1V572.6H420.6V567.5H387.5V562.4H382.4V567.5H374.7V572.6H372.2V567.5H367.1V572.6H356.9V567.5H351.8V572.6H346.7V567.5H326.4V572.6H321.3V567.5H311.1V562.4H308.5V567.5H300.9V562.4H298.4V572.6H293.3V562.4H290.7V567.5H267.8V572.6H257.6V562.4H255.1V567.5H252.5V572.6H247.4V567.5H242.3V572.6H237.2V567.5H234.7V572.6H232.2V567.5H227.1V572.6H219.4V567.5H216.9V572.6H214.3V567.5H204.1V572.6H201.6V567.5H199.1V572.6H196.5V567.5H178.7V562.4H176.1V567.5H173.6V562.4H171V567.5H153.2V572.6H150.7V567.5H135.4V572.6H127.8V567.5H117.6V572.6H112.5V567.5H92.1V572.6H87V567.5H84.5V572.6H76.8V567.5H69.2Z" fill="#2a3e96"/>
<path d="M69.2 542.2H71.7V537.1H74.3V547.3H81.9V552.4H84.5V547.3H94.7V552.4H97.2V542.2H102.3V552.4H104.8V547.3H107.4V542.2H109.9V547.3H112.5V542.2H115V547.3H120.1V552.4H122.7V542.2H125.2V547.3H127.8V552.4H130.3V542.2H137.9V547.3H140.5V557.5H143V547.3H148.1V552.4H150.7V552.4H153.2V557.5H155.8V537.1H158.3V552.4H163.4V547.3H168.5V542.2H171V547.3H173.6V552.4H176.1V542.2H178.7V557.5H181.2V547.3H186.3V552.4H188.9V557.5H196.5V547.3H199.1V542.2H201.6V547.3H204.1V557.5H206.7V547.3H209.2V542.2H211.8V547.3H222V542.2H224.5V547.3H229.6V552.4H232.2V547.3H234.7V542.2H237.2V552.4H239.8V552.4H242.3V547.3H244.9V557.5H247.4V547.3H250V542.2H257.6V557.5H260.2V547.3H272.9V542.2H275.4V542.2H278V537.1H280.5V542.2H283.1V547.3H285.6V542.2H288.2V552.4H290.7V547.3H300.9V552.4H308.5V542.2H311.1V547.3H316.2V552.4H318.7V557.5H321.3V547.3H323.8V542.2H328.9V547.3H331.5V552.4H334V547.3H339.1V552.4H341.6V547.3H344.2V542.2H349.3V542.2H351.8V537.1H356.9V547.3H359.5V552.4H362V542.2H369.6V552.4H374.7V547.3H379.8V542.2H382.4V567.5H374.7V572.6H372.2V567.5H364.6V572.6H359.5V567.5H354.4V562.4H351.8V572.6H349.3V567.5H341.6V562.4H339.1V567.5H334V562.4H328.9V567.5H316.2V562.4H308.5V567.5H306V562.4H298.4V567.5H293.3V557.3H290.7V562.4H280.5V567.5H267.8V572.6H265.3V567.5H260.2V572.6H257.6V562.4H255.1V567.5H252.5V572.6H247.4V567.5H242.3V572.6H239.8V567.5H237.2V562.4H234.7V567.5H232.2V562.4H229.6V567.5H227.1V572.6H224.5V567.5H219.4V562.4H216.9V567.5H214.3V562.4H211.8V567.5H209.2V562.4H204.1V572.6H201.6V562.4H199.1V572.6H196.5V562.4H191.4V567.5H183.8V562.4H181.2V567.5H178.7V562.4H176.1V567.5H173.6V562.4H171V567.5H153.2V572.6H150.7V567.5H143V562.4H135.4V567.5H132.9V572.6H130.3V567.5H120.1V562.4H117.6V572.6H112.5V567.5H104.8V562.4H99.8V567.5H92.1V572.6H89.6V567.5H87V562.4H84.5V572.6H76.8V567.5H71.7V562.4H69.2ZM384.9 542.2H387.5V557.5H390V542.2H392.6V552.4H395.1V557.5H397.7V552.4H400.2V547.3H402.7V542.2H410.4V547.3H412.9V552.4H415.5V542.2H418V557.5H420.6V542.2H423.1V552.4H425.7V552.4H428.2V542.2H430.8V557.5H433.3V542.2H435.8V552.4H438.4V547.3H448.6V552.4H451.1V542.2H453.7V552.4H461.3V547.3H463.9V557.5H466.4V547.3H468.9V557.5H474V542.2H476.6V547.3H481.7V552.4H484.2V547.3H486.8V552.4H489.3V547.3H499.5V557.5H502V547.3H504.6V557.5H509.7V552.4H512.2V547.3H514.8V542.2H517.3V547.3H519.9V552.4H522.4V557.5H525V537.1H530.1V542.2H535.1V557.5H540.2V547.3H545.3V552.4H547.9V547.3H550.4V542.2H553V547.3H555.5V542.2H558.1V552.4H560.6V547.3H563.2V557.5H565.7V552.4H568.2V542.2H575.9V547.3H583.5V557.5H586.1V552.4H588.6V547.3H593.7V552.4H596.3V542.2H603.9V537.1H606.4V542.2H609V547.3H611.5V552.4H616.6V547.3H621.7V537.1H624.3V547.3H629.4V552.4H634.4V542.2H642.1V547.3H654.8V552.4H657.4V547.3H665V557.5H667.5V552.4H672.6V547.3H675.2V557.5H677.7V547.3H680.3V552.4H682.8V552.4H685.4V547.3H690.5V557.5H693V542.2H695.6V557.5H698.1V532H700.6V547.3H708.3V552.4H710.8V557.5H713.4V552.4H715.9V552.4H718.5V547.3H723.6V552.4H728.7V547.3H736.3V552.4H738.8V542.2H741.4V552.4H743.9V557.5H746.5V542.2H749V552.4H751.6V547.3H754.1V552.4H756.7V547.3H769.4V537.1H771.9V547.3H779.6V542.2H782.1V547.3H784.7V537.1H787.2V552.4H789.8V547.3H794.9V542.2H797.4V547.3H799.9V552.4H802.5V547.3H805V542.2H807.6V547.3H815.2V542.2H817.8V552.4H820.3V542.2H825.4V547.3H828V542.2H833V552.4H835.6V547.3H840.7V557.5H845.8V547.3H848.3V557.5H850.9V547.3H858.5V557.5H861.1V552.4H863.6V547.3H868.7V552.4H871.2V547.3H881.4V542.2H884V547.3H886.5V557.5H889.1V547.3H896.7V552.4H899.3V557.5H901.8V547.3H904.3V557.5H906.9V547.3H909.4V552.4H912V547.3H914.5V557.5H919.6V542.2H922.2V552.4H924.7V547.3H929.8V557.5H932.4V547.3H937.4V552.4H940V547.3H942.5V542.2H945.1V557.5H947.6V542.2H952.7V547.3H955.3V542.2H957.8V547.3H962.9V542.2H965.5V547.3H970.5V557.5H975.6V547.3H980.7V552.4H985.8V542.2H990.9V552.4H993.5V547.3H996V552.4H998.6V547.3H1006.2V542.2H1008.7V557.5H1011.3V552.4H1018.9V547.3H1021.5V552.4H1026.6V542.2H1031.7V552.4H1034.2V542.2H1036.7V552.4H1039.3V547.3H1044.4V537.1H1046.9V542.2H1049.5V557.5H1052V552.4H1054.6V547.3H1057.1V552.4H1059.7V547.3H1064.8V552.4H1069.8V547.3H1072.4V552.4H1074.9V547.3H1080V542.2H1082.6V547.3H1087.7V552.4H1092.8V547.3H1095.3V552.4H1097.9V547.3H1102.9V552.4H1105.5V547.3H1108V542.2H1110.6V557.5H1120.8V547.3H1125.9V542.2H1131V557.3H1128.4V567.5H1108V562.4H1102.9V567.5H1087.7V572.6H1085.1V567.5H1082.6V562.4H1077.5V572.6H1074.9V567.5H1059.7V562.4H1057.1V567.5H1054.6V562.4H1052V567.5H1039.3V562.4H1031.7V567.5H1006.2V572.6H1003.6V567.5H993.5V562.4H990.9V567.5H988.4V562.4H983.3V567.5H978.2V562.4H975.6V567.5H973.1V562.4H957.8V567.5H955.3V562.4H950.2V572.6H947.6V562.4H945.1V567.5H942.5V562.4H934.9V567.5H929.8V562.4H924.7V567.5H919.6V562.4H917.1V567.5H909.4V562.4H901.8V567.5H899.3V572.6H896.7V562.4H894.2V567.5H891.6V572.6H889.1V562.4H884V567.5H873.8V562.4H871.2V567.5H868.7V572.6H866.1V567.5H863.6V562.4H861.1V567.5H856V562.4H853.4V572.6H850.9V562.4H848.3V567.5H845.8V562.4H840.7V567.5H838.1V562.4H835.6V567.5H833V562.4H830.5V572.6H820.3V562.4H817.8V567.5H815.2V562.4H812.7V572.6H805V562.4H799.9V567.5H794.9V572.6H792.3V567.5H787.2V572.6H784.7V567.5H782.1V572.6H777V567.5H774.5V572.6H771.9V567.5H769.4V562.4H766.8V567.5H764.3V562.4H759.2V567.5H754.1V562.4H751.6V567.5H749V562.4H746.5V567.5H741.4V562.4H733.7V567.5H726.1V562.4H723.6V567.5H721V562.4H713.4V567.5H710.8V562.4H708.3V567.5H705.7V572.6H703.2V567.5H698.1V572.6H695.6V562.4H693V567.5H687.9V572.6H685.4V567.5H682.8V562.4H680.3V567.5H677.7V562.4H675.2V567.5H672.6V572.6H667.5V562.4H665V567.5H662.5V572.6H659.9V562.4H654.8V567.5H637V562.4H631.9V567.5H626.8V562.4H624.3V567.5H621.7V562.4H619.2V567.5H616.6V562.4H614.1V567.5H611.5V562.4H609V567.5H603.9V562.4H601.3V567.5H596.3V557.3H591.2V562.4H588.6V572.6H583.5V567.5H581V562.4H575.9V557.3H570.8V562.4H565.7V567.5H560.6V562.4H555.5V567.5H547.9V562.4H542.8V567.5H537.7V562.4H527.5V567.5H522.4V562.4H519.9V572.6H514.8V562.4H509.7V567.5H504.6V562.4H502V567.5H497V572.6H494.4V562.4H491.9V567.5H486.8V562.4H481.7V567.5H476.6V572.6H474V567.5H468.9V562.4H466.4V567.5H461.3V572.6H458.8V562.4H456.2V567.5H451.1V557.3H448.6V562.4H443.5V572.6H440.9V567.5H438.4V562.4H423.1V572.6H420.6V567.5H415.5V562.4H412.9V567.5H402.7V562.4H400.2V567.5H397.7V562.4H395.1V567.5H387.5V562.4H384.9ZM1133.5 552.4H1136V547.3H1138.6V557.5H1141.1V541.7H1143.7V547.3H1146.2V552.4H1148.8V547.3H1153.9V552.4H1156.4V557.5H1159V547.3H1164.1V542.2H1166.6V557.5H1169.1V552.4H1171.7V547.3H1181.9V552.4H1184.4V542.2H1187V547.3H1192.1V557.5H1194.6V542.2H1197.2V557.5H1199.7V552.4H1202.2V537.1H1204.8V552.4H1207.3V547.3H1209.9V552.4H1212.4V542.2H1215V547.3H1217.5V542.2H1222.6V552.4H1227.7V547.3H1232.8V542.2H1237.9V552.4H1240.4V557.5H1243V552.4H1245.5V547.3H1250.6V542.2H1253.2V552.4H1260.8V547.3H1263.4V552.4H1265.9V547.3H1268.4V557.5H1271V547.3H1273.5V557.5H1276.1V552.4H1281.2V557.5H1286.3V552.4H1288.8V537.1H1291.4V547.3H1296.5V542.2H1299V547.3H1304.1V552.4H1309.2V547.3H1311.7V542.2H1314.3V552.4H1321.9V547.3H1324.5V557.5H1327V547.3H1332.1V552.4H1334.6V557.5H1337.2V547.3H1339.7V552.4H1342.3V547.3H1344.8V552.4H1347.4V557.5H1349.9V547.3H1352.5V552.4H1355V547.3H1365.2V542.2H1367.7V552.4H1370.3V542.2H1372.8V537.1H1377.9V542.2H1380.5V552.4H1383V537.1H1385.6V542.2H1388.1V547.3H1393.2V552.4H1395.8V547.3H1398.3V557.5H1400.8V547.3H1408.5V557.5H1411V552.4H1418.7V547.3H1426.3V552.4H1431.4V542.2H1433.9V547.3H1436.5V542.2H1441.6V547.3H1449.2V542.2H1451.8V547.3H1454.3V552.4H1459.4V547.3H1464.5V557.5H1467V542.2H1474.7V552.4H1477.2V547.3H1479.8V557.5H1482.3V537.1H1484.9V542.2H1490V552.4H1495.1V547.3H1502.7V552.4H1505.2V557.5H1507.8V552.4H1510.3V547.3H1520.5V552.4H1523.1V547.3H1528.2V542.2H1533.2V547.3H1535.8V557.5H1538.3V552.4H1548.5V547.3H1551.1V557.5H1553.6V547.3H1558.7V557.5H1561.3V547.3H1563.8V542.2H1568.9V547.3H1579.1V542.2H1581.6V547.3H1584.2V542.2H1594.4V547.3H1596.9V542.2H1599.4V547.3H1602V542.2H1604.5V547.3H1607.1V552.4H1609.6V547.3H1617.3V542.2H1619.8V557.5H1627.5V547.3H1630V552.4H1632.5V547.3H1637.6V552.4H1640.2V557.5H1642.7V552.4H1645.3V547.3H1647.8V542.2H1652.9V552.4H1658V547.3H1660.6V552.4H1663.1V557.5H1665.6V552.4H1668.2V557.5H1670.7V552.4H1673.3V547.3H1675.8V552.4H1678.4V542.2H1680.9V552.4H1683.5V542.2H1686V552.4H1688.6V547.3H1693.7V542.2H1696.2V567.5H1686V562.4H1680.9V567.5H1670.7V562.4H1668.2V572.6H1665.6V567.5H1663.1V562.4H1660.6V567.5H1647.8V572.6H1645.3V567.5H1640.2V562.4H1637.6V567.5H1635.1V572.6H1632.5V562.4H1627.5V567.5H1624.9V562.4H1622.4V567.5H1619.8V562.4H1617.3V567.5H1609.6V562.4H1604.5V567.5H1599.4V572.6H1594.4V557.3H1591.8V567.5H1581.6V572.6H1576.5V567.5H1574V572.6H1571.4V562.4H1568.9V567.5H1563.8V572.6H1558.7V567.5H1548.5V562.4H1543.4V567.5H1533.2V572.6H1530.7V567.5H1525.6V562.4H1523.1V567.5H1520.5V557.3H1518V562.4H1515.4V567.5H1512.9V562.4H1507.8V567.5H1500.1V562.4H1495.1V567.5H1492.5V562.4H1490V567.5H1484.9V562.4H1482.3V567.5H1479.8V562.4H1474.7V572.6H1472.1V562.4H1469.6V567.5H1464.5V562.4H1462V572.6H1459.4V567.5H1456.9V562.4H1454.3V567.5H1449.2V562.4H1446.7V567.5H1444.1V562.4H1439V567.5H1436.5V562.4H1431.4V572.6H1428.9V567.5H1423.8V572.6H1421.2V567.5H1416.1V562.4H1413.6V567.5H1411V562.4H1405.9V557.3H1403.4V567.5H1400.8V572.6H1398.3V567.5H1390.7V562.4H1385.6V567.5H1383V572.6H1380.5V567.5H1377.9V572.6H1370.3V567.5H1367.7V562.4H1365.2V567.5H1362.7V562.4H1360.1V567.5H1355V562.4H1349.9V567.5H1339.7V562.4H1337.2V572.6H1334.6V567.5H1332.1V562.4H1329.6V567.5H1319.4V562.4H1314.3V567.5H1311.7V562.4H1309.2V567.5H1306.6V562.4H1304.1V567.5H1299V572.6H1296.5V567.5H1291.4V572.6H1281.2V567.5H1278.6V562.4H1276.1V572.6H1273.5V562.4H1268.4V567.5H1265.9V562.4H1263.4V572.6H1258.3V567.5H1243V562.4H1240.4V572.6H1237.9V567.5H1232.8V562.4H1230.3V567.5H1225.2V562.4H1222.6V572.6H1220.1V567.5H1215V572.6H1212.4V562.4H1209.9V567.5H1202.2V572.6H1199.7V567.5H1184.4V562.4H1171.7V572.6H1169.1V567.5H1166.6V562.4H1164.1V567.5H1156.4V562.4H1151.3V567.5H1141.1V572.6H1133.5Z" fill="#3c55b4"/>
<path d="M69.2 822.2H71.7V817.1H74.3V822.2H79.4V817.1H81.9V822.2H84.5V817.1H87V832.4H89.6V817.1H92.1V827.3H94.7V822.2H97.2V817.1H99.8V822.2H102.3V827.3H109.9V832.4H115V827.3H120.1V817.1H122.7V827.3H125.2V817.1H127.8V832.4H130.3V822.2H145.6V827.3H148.1V822.2H153.2V827.3H155.8V822.2H166V817.1H168.5V822.2H171V827.3H173.6V822.2H181.2V827.3H186.3V817.1H191.4V822.2H194V827.3H196.5V817.1H199.1V832.4H201.6V827.3H204.1V822.2H211.8V817.1H214.3V832.4H216.9V812H222V827.3H224.5V822.2H229.6V827.3H237.2V832.4H239.8V827.3H244.9V817.1H247.4V827.3H250V822.2H260.2V832.4H262.7V827.3H265.3V822.2H267.8V817.1H272.9V832.4H275.4V827.3H280.5V817.1H285.6V822.2H290.7V827.3H293.3V822.2H295.8V827.3H298.4V822.2H300.9V827.3H308.5V812H311.1V817.1H316.2V827.3H321.3V832.4H323.8V827.3H326.4V822.2H336.5V827.3H339.1V822.2H356.9V812H359.5V827.3H362V832.4H364.6V827.3H367.1V822.2H372.2V827.3H374.7V832.4H377.3V822.2H382.4V817.1H390V822.2H395.1V817.1H397.7V827.3H402.7V822.2H405.3V817.1H407.8V812H410.4V822.2H412.9V817.1H415.5V832.4H420.6V827.3H423.1V817.1H425.7V832.4H428.2V817.1H433.3V822.2H438.4V827.3H440.9V832.4H443.5V822.2H446V832.4H448.6V827.3H451.1V822.2H456.2V827.3H461.3V822.2H463.9V827.3H468.9V832.4H471.5V827.3H474V822.2H476.6V817.1H479.1V822.2H484.2V827.3H486.8V822.2H489.3V827.3H494.4V822.2H497V817.1H499.5V822.2H504.6V837.5H507.1V822.2H514.8V827.3H517.3V822.2H522.4V827.3H527.5V822.2H532.6V832.4H535.1V822.2H542.8V812H545.3V817.1H547.9V822.2H550.4V827.3H553V822.2H555.5V827.3H558.1V822.2H560.6V817.1H563.2V822.2H568.2V817.1H570.8V827.3H575.9V822.2H578.4V827.3H581V822.2H593.7V832.4H596.3V822.2H598.8V827.3H609V822.2H614.1V832.4H616.6V812H619.2V817.1H621.7V832.4H624.3V827.3H626.8V822.2H631.9V812H634.4V822.2H647.2V832.4H649.7V822.2H652.3V832.4H654.8V817.1H657.4V822.2H665V837.5H667.5V817.1H672.6V832.4H675.2V817.1H677.7V822.2H682.8V832.4H685.4V822.2H693V827.3H695.6V817.1H698.1V802H700.6V812H703.2V827.3H705.7V837.5H708.3V822.2H715.9V817.1H718.5V832.4H721V817.1H723.6V827.3H726.1V822.2H728.7V812H731.2V827.3H733.7V822.2H736.3V827.3H738.8V822.2H743.9V827.3H746.5V817.1H749V827.3H751.6V822.2H754.1V817.1H756.7V822.2H759.2V832.4H761.8V822.2H764.3V817.1H766.8V822.2H771.9V812H774.5V817.1H777V822.2H784.7V827.3H787.2V812H792.3V817.1H794.9V832.4H797.4V812H799.9V817.1H802.5V832.4H807.6V817.1H810.1V822.2H812.7V817.1H815.2V827.3H817.8V822.2H825.4V827.3H828V817.1H830.5V822.2H835.6V817.1H840.7V832.4H843.2V822.2H853.4V827.3H861.1V822.2H868.7V812H871.2V832.4H873.8V822.2H878.9V827.3H881.4V832.4H884V827.3H891.6V832.4H896.7V827.3H901.8V822.2H904.3V827.3H906.9V812H909.4V817.1H912V822.2H914.5V827.3H922.2V822.2H927.3V832.4H929.8V822.2H934.9V827.3H937.4V817.1H940V812H942.5V827.3H950.2V822.2H952.7V812H955.3V822.2H957.8V827.3H960.4V822.2H962.9V827.3H965.5V822.2H968V827.3H980.7V812H983.3V817.1H985.8V832.4H988.4V827.3H990.9V817.1H993.5V822.2H996V832.4H998.6V817.1H1001.1V827.3H1003.6V817.1H1008.7V827.3H1011.3V817.1H1016.4V822.2H1018.9V817.1H1021.5V822.2H1024V812H1029.1V822.2H1031.7V817.1H1034.2V827.3H1036.7V832.4H1039.3V827.3H1041.8V822.2H1044.4V832.4H1046.9V822.2H1049.5V817.1H1052V837.5H1054.6V822.2H1057.1V832.4H1059.7V822.2H1062.2V827.3H1064.8V822.2H1074.9V832.4H1077.5V822.2H1090.2V827.3H1092.8V817.1H1095.3V827.3H1097.9V822.2H1105.5V827.3H1108V822.2H1110.6V817.1H1115.7V822.2H1120.8V812H1125.9V822.2H1131V817.1H1133.5V822.2H1141.1V802H1143.7V817.1H1146.2V822.2H1148.8V827.3H1151.3V812H1153.9V827.3H1156.4V822.2H1161.5V827.3H1164.1V817.1H1169.1V832.4H1171.7V822.2H1174.2V817.1H1176.8V822.2H1184.4V817.1H1189.5V827.3H1192.1V822.2H1197.2V837.5H1199.7V832.4H1202.2V817.1H1207.3V822.2H1212.4V817.1H1215V822.2H1217.5V827.3H1220.1V822.2H1222.6V817.1H1227.7V827.3H1230.3V822.2H1232.8V827.3H1235.3V812H1237.9V817.1H1240.4V832.4H1243V827.3H1250.6V822.2H1253.2V817.1H1255.7V827.3H1258.3V822.2H1260.8V817.1H1263.4V822.2H1265.9V827.3H1268.4V822.2H1271V827.3H1276.1V822.2H1278.6V827.3H1281.2V832.4H1283.7V817.1H1286.3V827.3H1288.8V822.2H1296.5V817.1H1301.5V822.2H1304.1V812H1306.6V827.3H1309.2V822.2H1311.7V832.4H1314.3V817.1H1316.8V827.3H1319.4V832.4H1321.9V822.2H1324.5V817.1H1329.6V827.3H1332.1V822.2H1334.6V837.5H1337.2V827.3H1339.7V822.2H1342.3V827.3H1344.8V832.4H1347.4V822.2H1362.7V832.4H1365.2V822.2H1370.3V817.1H1375.4V822.2H1377.9V827.3H1380.5V822.2H1383V827.3H1385.6V822.2H1393.2V837.5H1395.8V822.2H1398.3V817.1H1400.8V822.2H1403.4V827.3H1405.9V817.1H1408.5V822.2H1411V817.1H1413.6V822.2H1416.1V832.4H1418.7V822.2H1423.8V832.4H1426.3V837.5H1431.4V817.1H1433.9V827.3H1439V822.2H1441.6V832.4H1444.1V817.1H1446.7V832.4H1449.2V827.3H1451.8V822.2H1464.5V817.1H1467V822.2H1469.6V832.4H1472.1V827.3H1484.9V822.2H1502.7V817.1H1507.8V827.3H1510.3V817.1H1512.9V822.2H1515.4V827.3H1523.1V817.1H1525.6V812H1528.2V827.3H1533.2V822.2H1543.4V827.3H1546V822.2H1548.5V827.3H1551.1V822.2H1558.7V817.1H1561.3V822.2H1568.9V832.4H1571.4V827.3H1574V822.2H1576.5V832.4H1579.1V827.3H1586.7V832.4H1589.3V817.1H1591.8V827.3H1614.7V817.1H1617.3V822.2H1619.8V827.3H1622.4V822.2H1624.9V812H1630V822.2H1637.6V827.3H1640.2V822.2H1642.7V827.3H1647.8V822.2H1650.4V812H1652.9V817.1H1655.5V837.5H1658V827.3H1665.6V812H1670.7V827.3H1673.3V822.2H1675.8V817.1H1678.4V822.2H1680.9V817.1H1686V822.2H1688.6V827.3H1691.1V822.2H1693.7V817.1H1696.2V878.2H1665.6V873.1H1663.1V878.2H1650.4V873.1H1645.3V878.2H1617.3V873.1H1614.7V878.2H1579.1V873.1H1576.5V878.2H1563.8V883.3H1558.7V878.2H1548.5V873.1H1546V878.2H1538.3V883.3H1535.8V878.2H1533.2V873.1H1530.7V878.2H1528.2V873.1H1525.6V878.2H1518V873.1H1512.9V878.2H1505.2V873.1H1502.7V878.2H1487.4V873.1H1484.9V878.2H1474.7V873.1H1472.1V878.2H1469.6V873.1H1467V878.2H1446.7V883.3H1444.1V878.2H1400.8V873.1H1390.7V878.2H1383V873.1H1375.4V878.2H1360.1V873.1H1357.6V878.2H1347.4V883.3H1342.3V878.2H1339.7V883.3H1334.6V878.2H1309.2V883.3H1306.6V878.2H1268.4V873.1H1265.9V878.2H1260.8V873.1H1255.7V878.2H1232.8V883.3H1230.3V878.2H1227.7V873.1H1209.9V878.2H1202.2V873.1H1199.7V883.3H1192.1V878.2H1187V873.1H1184.4V878.2H1179.3V873.1H1176.8V883.3H1174.2V873.1H1171.7V878.2H1169.1V873.1H1161.5V878.2H1146.2V873.1H1143.7V878.2H1128.4V873.1H1118.2V878.2H1092.8V873.1H1090.2V878.2H1087.7V873.1H1082.6V878.2H1077.5V873.1H1072.4V878.2H1059.7V873.1H1052V878.2H1046.9V873.1H1044.4V878.2H1026.6V873.1H1024V878.2H1013.8V873.1H1011.3V878.2H988.4V873.1H985.8V878.2H957.8V873.1H940V883.3H934.9V878.2H929.8V873.1H922.2V878.2H917.1V873.1H904.3V878.2H891.6V873.1H889.1V883.3H884V878.2H871.2V883.3H868.7V873.1H866.1V883.3H863.6V878.2H853.4V873.1H850.9V878.2H812.7V883.3H810.1V878.2H802.5V873.1H799.9V878.2H784.7V873.1H777V878.2H728.7V883.3H723.6V873.1H721V878.2H718.5V873.1H715.9V878.2H708.3V873.1H705.7V878.2H703.2V873.1H687.9V878.2H685.4V873.1H682.8V878.2H680.3V873.1H677.7V878.2H675.2V873.1H670.1V878.2H665V883.3H659.9V878.2H639.5V873.1H634.4V878.2H614.1V883.3H611.5V878.2H601.3V873.1H598.8V878.2H593.7V873.1H591.2V878.2H563.2V873.1H560.6V883.3H555.5V878.2H553V873.1H550.4V878.2H547.9V883.3H545.3V873.1H542.8V883.3H537.7V873.1H535.1V878.2H527.5V873.1H519.9V878.2H509.7V883.3H504.6V873.1H502V878.2H476.6V883.3H474V878.2H466.4V873.1H463.9V878.2H446V873.1H443.5V878.2H438.4V873.1H433.3V883.3H430.8V873.1H428.2V878.2H420.6V873.1H418V878.2H407.8V873.1H405.3V878.2H395.1V873.1H392.6V878.2H367.1V873.1H364.6V878.2H359.5V873.1H354.4V878.2H328.9V873.1H326.4V878.2H306V873.1H300.9V878.2H283.1V873.1H280.5V878.2H255.1V883.3H247.4V873.1H244.9V878.2H224.5V873.1H222V878.2H214.3V873.1H211.8V878.2H201.6V873.1H199.1V878.2H145.6V873.1H143V883.3H140.5V878.2H135.4V873.1H127.8V878.2H81.9V873.1H79.4V878.2H76.8V873.1H71.7V883.3H69.2Z" fill="#82003c"/>
<path d="M69.2 822.2H71.7V827.3H76.8V822.2H79.4V817.1H81.9V832.4H84.5V817.1H87V832.4H89.6V827.3H92.1V832.4H94.7V827.3H97.2V822.2H99.8V832.4H102.3V827.3H104.8V832.4H107.4V827.3H109.9V837.5H115V827.3H117.6V832.4H120.1V827.3H127.8V837.5H130.3V832.4H132.9V822.2H135.4V832.4H137.9V822.2H140.5V832.4H143V827.3H145.6V837.5H148.1V832.4H150.7V827.3H158.3V832.4H163.4V827.3H166V822.2H168.5V822.2H171V837.5H173.6V827.3H181.2V832.4H183.8V827.3H186.3V822.2H191.4V827.3H194V837.5H196.5V817.1H199.1V832.4H201.6V837.5H204.1V822.2H206.7V827.3H214.3V837.5H216.9V817.1H222V837.5H224.5V832.4H227.1V827.3H237.2V837.5H239.8V827.3H244.9V817.1H247.4V827.3H250V832.4H255.1V827.3H257.6V832.4H260.2V837.5H265.3V832.4H267.8V817.1H272.9V832.4H275.4V837.5H278V832.4H280.5V822.2H283.1V827.3H285.6V822.2H288.2V827.3H293.3V832.4H295.8V837.5H298.4V822.2H300.9V832.4H303.4V837.5H306V827.3H308.5V822.2H311.1V827.3H313.6V822.2H316.2V827.3H318.7V837.5H323.8V827.3H326.4V832.4H331.5V827.3H334V832.4H336.5V827.3H344.2V832.4H346.7V827.3H354.4V822.2H356.9V817.1H359.5V827.3H362V832.4H367.1V832.4H369.6V827.3H372.2V832.4H374.7V837.5H377.3V827.3H379.8V832.4H382.4V817.1H384.9V822.2H390V827.3H392.6V832.4H395.1V822.2H397.7V837.5H400.2V832.4H402.7V822.2H405.3V827.3H407.8V812H410.4V822.2H412.9V827.3H415.5V837.5H420.6V827.3H425.7V832.4H428.2V827.3H435.8V822.2H438.4V832.4H440.9V837.5H443.5V827.3H446V837.5H448.6V832.4H451.1V832.4H456.2V827.3H458.8V832.4H461.3V827.3H463.9V832.4H466.4V837.5H471.5V832.4H474V822.2H476.6V822.2H479.1V827.3H481.7V832.4H484.2V832.4H486.8V822.2H489.3V837.5H494.4V832.4H497V827.3H499.5V832.4H504.6V837.5H507.1V827.3H512.2V822.2H514.8V827.3H519.9V832.4H522.4V837.5H527.5V832.4H530.1V827.3H532.6V837.5H535.1V822.2H537.7V832.4H540.2V822.2H545.3V817.1H547.9V827.3H550.4V832.4H553V832.4H555.5V832.4H558.1V822.2H560.6V817.1H563.2V822.2H565.7V827.3H570.8V837.5H573.3V832.4H575.9V827.3H578.4V837.5H581V822.2H583.5V832.4H593.7V832.4H596.3V832.4H598.8V832.4H601.3V827.3H603.9V837.5H606.4V827.3H609V832.4H611.5V822.2H614.1V837.5H616.6V817.1H619.2V822.2H621.7V832.4H624.3V837.5H626.8V827.3H629.4V832.4H631.9V822.2H637V832.4H639.5V827.3H642.1V822.2H644.6V827.3H647.2V832.4H649.7V832.4H652.3V837.5H654.8V822.2H657.4V832.4H659.9V822.2H665V837.5H667.5V827.3H672.6V837.5H675.2V817.1H677.7V827.3H682.8V832.4H685.4V827.3H693V832.4H695.6V822.2H698.1V812.2H700.6V822.2H703.2V837.5H708.3V827.3H713.4V832.4H715.9V817.1H718.5V832.4H721V817.1H723.6V827.3H726.1V822.2H728.7V817.1H731.2V837.5H733.7V827.3H736.3V832.4H738.8V827.3H746.5V817.1H749V827.3H751.6V832.4H754.1V817.1H756.7V827.3H759.2V837.5H761.8V827.3H766.8V822.2H774.5V822.2H777V822.2H782.1V827.3H784.7V832.4H787.2V817.1H789.8V822.2H792.3V822.2H794.9V832.4H797.4V822.2H799.9V822.2H802.5V832.4H805V837.5H807.6V822.2H810.1V827.3H812.7V822.2H815.2V827.3H830.5V832.4H833V822.2H835.6V822.2H838.1V827.3H840.7V832.4H843.2V832.4H845.8V827.3H850.9V822.2H853.4V832.4H861.1V822.2H863.6V827.3H866.1V832.4H868.7V817.1H871.2V832.4H873.8V827.3H881.4V837.5H886.5V832.4H894.2V837.5H899.3V827.3H901.8V822.2H904.3V827.3H906.9V812H909.4V822.2H912V827.3H917.1V837.5H919.6V832.4H922.2V827.3H927.3V832.4H929.8V827.3H932.4V822.2H934.9V827.3H937.4V822.2H940V812H942.5V832.4H950.2V827.3H952.7V822.2H955.3V832.4H957.8V837.5H960.4V822.2H962.9V827.3H970.5V832.4H978.2V837.5H980.7V812H983.3V817.1H985.8V832.4H988.4V827.3H990.9V817.1H993.5V827.3H996V837.5H998.6V817.1H1001.1V837.5H1003.6V827.3H1006.2V822.2H1008.7V827.3H1011.3V822.2H1016.4V827.3H1021.5V832.4H1024V812H1029.1V822.2H1031.7V822.2H1034.2V827.3H1036.7V837.5H1041.8V827.3H1044.4V837.5H1046.9V827.3H1052V837.5H1054.6V827.3H1057.1V832.4H1059.7V832.4H1062.2V832.4H1064.8V827.3H1067.3V822.2H1069.8V827.3H1072.4V822.2H1074.9V837.5H1077.5V827.3H1080V832.4H1085.1V827.3H1087.7V832.4H1090.2V827.3H1092.8V817.1H1095.3V837.5H1097.9V832.4H1100.4V822.2H1102.9V827.3H1110.6V822.2H1113.1V817.1H1115.7V827.3H1120.8V822.2H1123.3V817.1H1125.9V827.3H1128.4V822.2H1131V817.1H1133.5V822.2H1138.6V832.4H1141.1V807.1H1143.7V817.1H1146.2V832.4H1148.8V827.3H1151.3V812H1153.9V832.4H1156.4V822.2H1159V827.3H1161.5V837.5H1164.1V822.2H1166.6V827.3H1169.1V832.4H1171.7V822.2H1174.2V822.2H1176.8V827.3H1179.3V822.2H1184.4V822.2H1187V817.1H1189.5V827.3H1197.2V837.5H1199.7V832.4H1202.2V822.2H1207.3V832.4H1209.9V822.2H1212.4V827.3H1215V822.2H1217.5V827.3H1220.1V822.2H1222.6V817.1H1227.7V832.4H1230.3V822.2H1232.8V827.3H1235.3V812H1237.9V822.2H1240.4V832.4H1243V827.3H1245.5V837.5H1248.1V827.3H1250.6V832.4H1253.2V822.2H1255.7V827.3H1258.3V832.4H1260.8V827.3H1265.9V832.4H1268.4V827.3H1273.5V837.5H1276.1V832.4H1278.6V837.5H1283.7V827.3H1286.3V837.5H1288.8V832.4H1291.4V827.3H1296.5V817.1H1299V822.2H1301.5V827.3H1304.1V817.1H1306.6V837.5H1309.2V822.2H1311.7V837.5H1314.3V817.1H1316.8V837.5H1319.4V832.4H1321.9V832.4H1324.5V827.3H1327V817.1H1329.6V827.3H1332.1V832.4H1334.6V837.5H1339.7V827.3H1344.8V832.4H1347.4V827.3H1352.5V832.4H1357.6V827.3H1360.1V832.4H1362.7V832.4H1365.2V827.3H1367.7V822.2H1370.3V817.1H1372.8V827.3H1375.4V822.2H1377.9V832.4H1380.5V827.3H1383V837.5H1385.6V832.4H1388.1V827.3H1390.7V832.4H1393.2V837.5H1395.8V822.2H1398.3V822.2H1400.8V832.4H1403.4V827.3H1405.9V817.1H1408.5V832.4H1411V817.1H1413.6V832.4H1416.1V837.5H1418.7V827.3H1421.2V822.2H1423.8V832.4H1426.3V837.5H1431.4V822.2H1433.9V827.3H1441.6V837.5H1444.1V822.2H1446.7V837.5H1449.2V832.4H1451.8V822.2H1454.3V827.3H1456.9V822.2H1462V827.3H1464.5V817.1H1467V822.2H1469.6V837.5H1477.2V827.3H1479.8V832.4H1482.3V827.3H1484.9V832.4H1487.4V822.2H1490V827.3H1495.1V832.4H1497.6V827.3H1500.1V822.2H1502.7V822.2H1507.8V837.5H1510.3V817.1H1512.9V827.3H1515.4V837.5H1520.5V827.3H1523.1V817.1H1528.2V832.4H1530.7V837.5H1533.2V822.2H1535.8V827.3H1538.3V832.4H1543.4V832.4H1546V832.4H1548.5V827.3H1563.8V832.4H1568.9V832.4H1574V827.3H1576.5V837.5H1581.6V827.3H1584.2V837.5H1589.3V822.2H1591.8V837.5H1594.4V827.3H1599.4V832.4H1602V827.3H1604.5V832.4H1607.1V827.3H1609.6V837.5H1612.2V827.3H1614.7V817.1H1617.3V822.2H1619.8V832.4H1622.4V827.3H1624.9V812H1627.5V817.1H1630V832.4H1632.5V822.2H1635.1V827.3H1637.6V837.5H1640.2V832.4H1642.7V832.4H1645.3V827.3H1647.8V822.2H1650.4V817.1H1655.5V837.5H1658V832.4H1660.6V837.5H1663.1V832.4H1665.6V822.2H1668.2V817.1H1670.7V827.3H1675.8V822.2H1678.4V827.3H1680.9V817.1H1686V827.3H1688.6V832.4H1691.1V827.3H1693.7V817.1H1696.2V873.1H1680.9V878.2H1678.4V873.1H1675.8V878.2H1673.3V873.1H1655.5V878.2H1652.9V873.1H1650.4V868H1645.3V878.2H1642.7V873.1H1640.2V878.2H1635.1V873.1H1630V878.2H1627.5V873.1H1617.3V868H1614.7V873.1H1604.5V878.2H1602V873.1H1599.4V878.2H1596.9V873.1H1581.6V878.2H1579.1V868H1576.5V873.1H1571.4V878.2H1568.9V873.1H1566.3V878.2H1563.8V878.2H1561.3V883.3H1558.7V873.1H1556.2V878.2H1551.1V873.1H1548.5V868H1546V873.1H1540.9V878.2H1538.3V878.2H1535.8V878.2H1533.2V873.1H1528.2V868H1525.6V873.1H1523.1V878.2H1520.5V873.1H1518V868H1512.9V873.1H1505.2V868H1502.7V873.1H1495.1V878.2H1492.5V873.1H1490V878.2H1487.4V868H1484.9V878.2H1482.3V873.1H1479.8V878.2H1477.2V873.1H1474.7V868H1472.1V873.1H1469.6V868H1467V873.1H1451.8V878.2H1449.2V873.1H1446.7V878.2H1444.1V873.1H1439V878.2H1436.5V873.1H1423.8V878.2H1421.2V873.1H1416.1V878.2H1413.6V873.1H1405.9V878.2H1403.4V873.1H1400.8V868H1393.2V873.1H1372.8V878.2H1367.7V873.1H1349.9V878.2H1347.4V883.3H1344.8V878.2H1342.3V873.1H1339.7V878.2H1334.6V878.2H1332.1V873.1H1329.6V878.2H1327V873.1H1324.5V878.2H1319.4V873.1H1309.2V878.2H1306.6V873.1H1301.5V878.2H1296.5V873.1H1286.3V878.2H1271V873.1H1268.4V868H1265.9V873.1H1260.8V868H1258.3V873.1H1250.6V878.2H1248.1V873.1H1245.5V878.2H1243V873.1H1232.8V878.2H1230.3V873.1H1227.7V868H1220.1V873.1H1217.5V868H1215V873.1H1212.4V868H1209.9V878.2H1202.2V873.1H1199.7V878.2H1197.2V883.3H1194.6V878.2H1192.1V873.1H1189.5V878.2H1187V873.1H1179.3V868H1176.8V878.2H1174.2V868H1171.7V873.1H1169.1V868H1166.6V873.1H1164.1V868H1161.5V873.1H1156.4V878.2H1153.9V873.1H1151.3V878.2H1148.8V873.1H1146.2V868H1143.7V878.2H1136V873.1H1133.5V878.2H1128.4V868H1118.2V873.1H1115.7V878.2H1113.1V873.1H1110.6V878.2H1108V873.1H1105.5V878.2H1102.9V873.1H1092.8V868H1090.2V873.1H1087.7V868H1082.6V873.1H1080V878.2H1077.5V868H1072.4V873.1H1059.7V868H1054.6V873.1H1026.6V868H1024V873.1H1021.5V878.2H1018.9V873.1H1013.8V868H1011.3V873.1H1003.6V878.2H1001.1V873.1H998.6V878.2H993.5V873.1H960.4V878.2H957.8V873.1H955.3V868H952.7V873.1H950.2V868H945.1V873.1H942.5V868H940V878.2H934.9V873.1H932.4V878.2H929.8V868H922.2V873.1H919.6V878.2H917.1V868H914.5V873.1H906.9V868H904.3V873.1H899.3V878.2H896.7V873.1H891.6V868H889.1V878.2H886.5V883.3H884V873.1H871.2V878.2H868.7V868H866.1V883.3H863.6V878.2H861.1V873.1H856V878.2H853.4V873.1H838.1V878.2H835.6V873.1H830.5V878.2H828V873.1H825.4V878.2H822.9V873.1H817.8V878.2H812.7V878.2H810.1V878.2H807.6V873.1H805V878.2H802.5V868H799.9V873.1H797.4V878.2H794.9V873.1H792.3V878.2H789.8V873.1H787.2V878.2H784.7V873.1H782.1V868H777V873.1H764.3V878.2H761.8V873.1H754.1V878.2H749V873.1H746.5V878.2H738.8V873.1H736.3V878.2H733.7V873.1H728.7V883.3H723.6V873.1H718.5V868H715.9V873.1H703.2V868H698.1V873.1H685.4V868H682.8V873.1H677.7V878.2H675.2V873.1H665V878.2H659.9V873.1H654.8V878.2H649.7V873.1H647.2V878.2H644.6V873.1H642.1V878.2H639.5V868H634.4V878.2H631.9V873.1H626.8V878.2H624.3V873.1H621.7V878.2H614.1V878.2H611.5V878.2H606.4V873.1H601.3V868H598.8V873.1H596.3V878.2H593.7V868H591.2V873.1H586.1V878.2H583.5V873.1H568.2V878.2H563.2V873.1H560.6V878.2H555.5V873.1H553V868H550.4V873.1H547.9V878.2H545.3V868H542.8V878.2H537.7V873.1H532.6V878.2H527.5V868H519.9V873.1H509.7V878.2H504.6V873.1H502V878.2H497V873.1H484.2V878.2H481.7V873.1H476.6V878.2H474V873.1H471.5V878.2H468.9V873.1H466.4V868H463.9V878.2H456.2V873.1H453.7V878.2H451.1V873.1H448.6V878.2H446V873.1H443.5V878.2H438.4V868H433.3V878.2H430.8V873.1H428.2V878.2H420.6V868H418V878.2H412.9V873.1H410.4V878.2H407.8V868H405.3V873.1H400.2V878.2H397.7V873.1H392.6V878.2H390V873.1H379.8V878.2H377.3V873.1H372.2V878.2H367.1V873.1H364.6V878.2H359.5V868H356.9V873.1H354.4V878.2H351.8V873.1H349.3V878.2H346.7V873.1H339.1V878.2H336.5V873.1H328.9V868H326.4V873.1H323.8V878.2H318.7V873.1H311.1V878.2H308.5V873.1H306V868H300.9V873.1H295.8V878.2H293.3V873.1H288.2V878.2H285.6V873.1H283.1V868H280.5V873.1H278V878.2H275.4V873.1H270.3V878.2H267.8V873.1H260.2V878.2H255.1V878.2H247.4V868H244.9V873.1H239.8V878.2H234.7V873.1H232.2V878.2H227.1V873.1H224.5V868H222V873.1H216.9V878.2H214.3V873.1H211.8V878.2H209.2V873.1H194V878.2H183.8V873.1H178.7V878.2H173.6V873.1H166V878.2H163.4V873.1H145.6V868H143V878.2H140.5V878.2H137.9V873.1H135.4V868H132.9V873.1H130.3V868H127.8V878.2H125.2V873.1H112.5V878.2H109.9V873.1H104.8V878.2H102.3V873.1H87V878.2H84.5V873.1H81.9V868H79.4V878.2H76.8V868H71.7V878.2H69.2Z" fill="#a20054"/>
</g>
<g id="border">
<g fill="#000"><rect x="23.1" y="117.1" width="1675.45" height="2.7"/><rect x="23.1" y="1132.4" width="1675.45" height="2.55"/><rect x="64.1" y="119" width="2.9" height="1014"/><rect x="1696.0" y="119" width="2.55" height="1014"/></g>
</g>
<g id="markers">
<g fill="#ff8800"><path d="M82.27 119.8L82.27 122.34L79.72 122.34L79.72 124.89L77.18 124.89L77.18 127.44L74.64 127.44L74.64 129.98L72.09 129.98L72.09 132.53L69.55 132.53L69.55 135.07L67 135.07L67 119.8Z"/></g>
<g fill="#ff9900"><path d="M51.4 277.25L53.95 277.25L53.95 279.79L56.49 279.79L56.49 282.34L59.03 282.34L59.03 284.88L61.58 284.88L61.58 287.43L64.12 287.43L64.12 289.97L61.58 289.97L61.58 292.52L59.03 292.52L59.03 295.06L56.49 295.06L56.49 297.61L53.95 297.61L53.95 300.15L51.4 300.15Z"/></g>
<g fill="#ff0a84"><rect x="41.4" y="888.25" width="2.5" height="21.4"/><rect x="41.4" y="888.25" width="11" height="2.5"/><path d="M51.8 878.05L54.34 878.05L54.34 880.59L56.89 880.59L56.89 883.14L59.43 883.14L59.43 885.68L61.98 885.68L61.98 888.23L64.52 888.23L64.52 890.77L61.98 890.77L61.98 893.32L59.43 893.32L59.43 895.86L56.89 895.86L56.89 898.41L54.34 898.41L54.34 900.95L51.8 900.95Z"/><rect x="31" y="908.5" width="23.1" height="2.4"/><rect x="33.7" y="913.8" width="18.1" height="2.3"/><rect x="38.8" y="918.8" width="7.7" height="2.3"/></g>
<g fill="#5a78ff"><rect x="41.4" y="1066.15" width="2.5" height="21.4"/><rect x="41.4" y="1066.15" width="11" height="2.5"/><path d="M51.8 1055.95L54.34 1055.95L54.34 1058.49L56.89 1058.49L56.89 1061.04L59.43 1061.04L59.43 1063.58L61.98 1063.58L61.98 1066.13L64.52 1066.13L64.52 1068.67L61.98 1068.67L61.98 1071.22L59.43 1071.22L59.43 1073.76L56.89 1073.76L56.89 1076.31L54.34 1076.31L54.34 1078.85L51.8 1078.85Z"/><rect x="31" y="1086.4" width="23.1" height="2.4"/><rect x="33.7" y="1091.7" width="18.1" height="2.3"/><rect x="38.8" y="1096.7" width="7.7" height="2.3"/></g>
<g fill="#ff9900"><rect x="51.7" y="1107.1" width="2.4" height="14"/><path d="M64.35 1119.9L64.35 1122.45L61.81 1122.45L61.81 1124.99L59.26 1124.99L59.26 1127.54L56.72 1127.54L56.72 1130.08L54.17 1130.08L54.17 1132.62L51.63 1132.62L51.63 1130.08L49.08 1130.08L49.08 1127.54L46.54 1127.54L46.54 1124.99L43.99 1124.99L43.99 1122.45L41.45 1122.45L41.45 1119.9Z"/></g>
<g fill="#1a1a1a"><rect x="1724.1" y="74" width="2.3" height="27.8"/><rect x="1724.1" y="74" width="9.8" height="2.5"/><rect x="1716" y="99.3" width="10.4" height="2.5"/><polygon points="1716,91.9 1716,89.3 1718.9,89.3 1718.9,86.6 1721.5,86.6 1721.5,83.9 1728.9,83.9 1728.9,86.6 1731.5,86.6 1731.5,89.3 1734,89.3 1734,91.9"/></g>
<g fill="#ff8800"><path d="M891.56 119.8L896.65 119.8L896.65 122.34L894.1 122.34L894.1 124.89L891.56 124.89L891.56 127.44L889.01 127.44L889.01 129.98L886.47 129.98L886.47 132.53L883.92 132.53L883.92 135.07L881.38 135.07L881.38 132.53L878.83 132.53L878.83 129.98L876.29 129.98L876.29 127.44L873.74 127.44L873.74 124.89L871.2 124.89L871.2 122.34L868.65 122.34L868.65 119.8L873.74 119.8L873.74 122.34L876.29 122.34L876.29 124.89L878.83 124.89L878.83 127.44L881.38 127.44L881.38 129.98L883.92 129.98L883.92 127.44L886.47 127.44L886.47 124.89L889.01 124.89L889.01 122.34L891.56 122.34Z"/></g>
</g>
<g id="pills">
<rect x="63.8" y="1066.9" width="151" height="68.5" rx="30" ry="30" fill="#4472c4"/>
<rect x="216.8" y="1068.3" width="229.2" height="67.1" rx="30" ry="30" fill="#4472c4"/>
<rect x="569.2" y="1063.3" width="149.7" height="72.1" rx="30.5" ry="30.5" fill="#cc0066"/>
<rect x="721.5" y="1064.3" width="446.5" height="71.1" rx="30.5" ry="30.5" fill="#cc0066"/>
<rect x="1444" y="1063.9" width="254.4" height="71.5" rx="30.5" ry="30.5" fill="#f4b183"/>
</g>
</svg>
<div id="labels">
<div class="title">
<span class="t s" style="left:28.54px;top:13.84px;font-size:44px;line-height:44px;transform:scaleX(0.59);color:#000;">DSO-X</span>
<span class="t s" style="left:118.86px;top:13.84px;font-size:44px;line-height:44px;transform:scaleX(0.7058);color:#000;">3034A,</span>
<span class="t s" style="left:224.48px;top:13.84px;font-size:44px;line-height:44px;transform:scaleX(0.7193);color:#000;">MY54312274:</span>
<span class="t s" style="left:427.99px;top:13.84px;font-size:44px;line-height:44px;transform:scaleX(0.7457);color:#000;">Mon</span>
<span class="t s" style="left:496.68px;top:13.84px;font-size:44px;line-height:44px;transform:scaleX(0.7497);color:#000;">Mar</span>
<span class="t s" style="left:561.2px;top:13.84px;font-size:44px;line-height:44px;transform:scaleX(0.7448);color:#000;">06</span>
<span class="t s" style="left:607.42px;top:13.84px;font-size:44px;line-height:44px;transform:scaleX(0.7018);color:#000;">15:40:58</span>
<span class="t s" style="left:734.13px;top:13.84px;font-size:44px;line-height:44px;transform:scaleX(0.7403);color:#000;">2023</span>
</div>
<div class="status-line">
<span class="t s" style="left:35.48px;top:64.62px;font-size:49.68px;line-height:49.68px;transform:scaleX(0.682);clip-path:inset(0 0 12.5px 0);color:#ff9900;">1</span>
<span class="t s" style="left:94.32px;top:65.04px;font-size:44px;line-height:44px;transform:scaleX(0.8234);-webkit-text-stroke:0.3px #fff;">1.80V/</span>
<span class="t s" style="left:248.37px;top:65.04px;font-size:44px;line-height:44px;transform:scaleX(0.77);color:#22b30f;-webkit-text-stroke:0.3px #fff;">2</span>
<span class="t s" style="left:462.6px;top:65.04px;font-size:44px;line-height:44px;transform:scaleX(0.7422);color:#5a78ff;-webkit-text-stroke:0.3px #fff;">3</span>
<span class="t s" style="left:520.64px;top:65.04px;font-size:44px;line-height:44px;transform:scaleX(0.8359);-webkit-text-stroke:0.3px #fff;">3.00V/</span>
<span class="t s" style="left:677.35px;top:65.04px;font-size:44px;line-height:44px;transform:scaleX(0.6517);color:#ff0a84;-webkit-text-stroke:0.3px #fff;">4</span>
<span class="t s" style="left:739.2px;top:65.04px;font-size:44px;line-height:44px;transform:scaleX(0.8);-webkit-text-stroke:0.3px #fff;">300</span>
<span class="t s" style="left:824.7px;top:65.04px;font-size:44px;line-height:44px;transform:scaleX(0.9143);-webkit-text-stroke:0.3px #fff;">/</span>
<span class="t s" style="left:1097.84px;top:65.04px;font-size:44px;line-height:44px;transform:scaleX(0.8329);-webkit-text-stroke:0.3px #fff;">3.000</span>
<span class="t s" style="left:1191.98px;top:69.24px;font-size:39px;line-height:39px;transform:scaleX(0.5731);">s</span>
<span class="t s" style="left:1301.98px;top:65.04px;font-size:44px;line-height:44px;transform:scaleX(0.8131);-webkit-text-stroke:0.3px #fff;">500.0</span>
<span class="t s" style="left:1412.2px;top:65.04px;font-size:44px;line-height:44px;transform:scaleX(0.9469);-webkit-text-stroke:0.3px #fff;">/</span>
<span class="t s" style="left:1538.39px;top:65.04px;font-size:44px;line-height:44px;transform:scaleX(0.8069);-webkit-text-stroke:0.3px #fff;">Stop</span>
<span class="t s" style="left:1786.68px;top:64.62px;font-size:49.68px;line-height:49.68px;transform:scaleX(0.682);clip-path:inset(0 0 12.5px 0);color:#ff9900;">1</span>
<span class="t s" style="left:1902.51px;top:65.04px;font-size:44px;line-height:44px;transform:scaleX(0.7956);-webkit-text-stroke:0.3px #fff;">24.8V</span>
<span class="t sb" style="left:803.81px;top:69.16px;font-size:18.5px;line-height:18.5px;transform:scaleX(0.95);">m</span>
<span class="t sb" style="left:804.77px;top:84.25px;font-size:22.2px;line-height:22.2px;transform:scaleX(0.9333);">V</span>
<span class="t sb" style="left:1394.17px;top:69.16px;font-size:18.5px;line-height:18.5px;transform:scaleX(0.9071);">m</span>
<span class="t sb" style="left:1394.41px;top:83.8px;font-size:22.5px;line-height:22.5px;transform:scaleX(1.1814);">s</span>
</div>
<div class="side-panel">
<span class="t b" style="left:1844.7px;top:135.94px;font-size:54px;line-height:54px;transform:scaleX(0.93);color:#202020;">Agilent</span>
<span class="t s" style="left:1797.51px;top:219.94px;font-size:44px;line-height:44px;transform:scaleX(0.779);-webkit-text-stroke:0.3px #e8e8e8;">Acquisition</span>
<span class="t s" style="left:1811.92px;top:270.74px;font-size:44px;line-height:44px;transform:scaleX(0.7357);-webkit-text-stroke:0.3px #e8e8e8;">High</span>
<span class="t s" style="left:1889.89px;top:270.74px;font-size:44px;line-height:44px;transform:scaleX(0.6608);-webkit-text-stroke:0.3px #e8e8e8;">Res</span>
<span class="t s" style="left:1807.64px;top:322.24px;font-size:44px;line-height:44px;transform:scaleX(0.7882);-webkit-text-stroke:0.3px #e8e8e8;">100kSa/s</span>
<span class="t s" style="left:1812.91px;top:423.54px;font-size:44px;line-height:44px;transform:scaleX(0.7082);-webkit-text-stroke:0.3px #e8e8e8;">Channels</span>
<span class="t s" style="left:1713.92px;top:474.44px;font-size:44px;line-height:44px;transform:scaleX(0.6232);color:#ff9900;-webkit-text-stroke:0.3px #e8e8e8;">DC</span>
<span class="t s" style="left:1947.39px;top:474.44px;font-size:44px;line-height:44px;transform:scaleX(0.7726);color:#ff9900;-webkit-text-stroke:0.3px #e8e8e8;">10.0:1</span>
<span class="t s" style="left:1713.92px;top:525.24px;font-size:44px;line-height:44px;transform:scaleX(0.6232);color:#22b30f;-webkit-text-stroke:0.3px #e8e8e8;">DC</span>
<span class="t s" style="left:1947.39px;top:525.24px;font-size:44px;line-height:44px;transform:scaleX(0.7726);color:#22b30f;-webkit-text-stroke:0.3px #e8e8e8;">1.00:1</span>
<span class="t s" style="left:1713.92px;top:576.14px;font-size:44px;line-height:44px;transform:scaleX(0.6232);color:#5a78ff;-webkit-text-stroke:0.3px #e8e8e8;">DC</span>
<span class="t s" style="left:1947.39px;top:576.14px;font-size:44px;line-height:44px;transform:scaleX(0.7726);color:#5a78ff;-webkit-text-stroke:0.3px #e8e8e8;">10.0:1</span>
<span class="t s" style="left:1713.92px;top:627.14px;font-size:44px;line-height:44px;transform:scaleX(0.6232);color:#ff0a84;-webkit-text-stroke:0.3px #e8e8e8;">DC</span>
<span class="t s" style="left:1947.39px;top:627.14px;font-size:44px;line-height:44px;transform:scaleX(0.7726);color:#ff0a84;-webkit-text-stroke:0.3px #e8e8e8;">10.0:1</span>
</div>
<div class="measurements">
<span class="t s" style="left:145.5px;top:1183.12px;font-size:47px;line-height:47px;transform:scaleX(1.0217);color:#ff9900;-webkit-text-stroke:0.3px #e8e8e8;">+</span>
<span class="t s" style="left:173.9px;top:1184.34px;font-size:44px;line-height:44px;transform:scaleX(0.7995);color:#ff9900;-webkit-text-stroke:0.3px #e8e8e8;">20.0000V</span>
<span class="t s" style="left:46.09px;top:1232.84px;font-size:44px;line-height:44px;transform:scaleX(0.6318);color:#ff9900;-webkit-text-stroke:0.3px #e8e8e8;">DC</span>
<span class="t s" style="left:325.87px;top:1232.84px;font-size:44px;line-height:44px;transform:scaleX(0.7778);color:#ff9900;-webkit-text-stroke:0.3px #e8e8e8;">10.0:1</span>
<span class="t s" style="left:596.63px;top:1183.12px;font-size:47px;line-height:47px;transform:scaleX(1.0087);color:#22b30f;-webkit-text-stroke:0.3px #e8e8e8;">+</span>
<span class="t s" style="left:625.23px;top:1184.34px;font-size:44px;line-height:44px;transform:scaleX(0.7808);color:#22b30f;-webkit-text-stroke:0.3px #e8e8e8;">0.0A</span>
<span class="t s" style="left:458.5px;top:1232.84px;font-size:44px;line-height:44px;transform:scaleX(0.6283);color:#22b30f;-webkit-text-stroke:0.3px #e8e8e8;">DC</span>
<span class="t s" style="left:738.28px;top:1232.84px;font-size:44px;line-height:44px;transform:scaleX(0.7744);color:#22b30f;-webkit-text-stroke:0.3px #e8e8e8;">1.00:1</span>
<span class="t s" style="left:970.63px;top:1183.12px;font-size:47px;line-height:47px;transform:scaleX(1.0087);color:#5a78ff;-webkit-text-stroke:0.3px #e8e8e8;">+</span>
<span class="t s" style="left:1000.84px;top:1184.34px;font-size:44px;line-height:44px;transform:scaleX(0.787);color:#5a78ff;-webkit-text-stroke:0.3px #e8e8e8;">10.4250V</span>
<span class="t s" style="left:871.21px;top:1232.84px;font-size:44px;line-height:44px;transform:scaleX(0.6249);color:#5a78ff;-webkit-text-stroke:0.3px #e8e8e8;">DC</span>
<span class="t s" style="left:1150.46px;top:1232.84px;font-size:44px;line-height:44px;transform:scaleX(0.7812);color:#5a78ff;-webkit-text-stroke:0.3px #e8e8e8;">10.0:1</span>
<span class="t s" style="left:1377.72px;top:1183.12px;font-size:47px;line-height:47px;transform:scaleX(1.013);color:#ff0a84;-webkit-text-stroke:0.3px #e8e8e8;">+</span>
<span class="t s" style="left:1406.33px;top:1184.34px;font-size:44px;line-height:44px;transform:scaleX(0.7869);color:#ff0a84;-webkit-text-stroke:0.3px #e8e8e8;">626.25mV</span>
<span class="t s" style="left:1283.61px;top:1232.84px;font-size:44px;line-height:44px;transform:scaleX(0.6249);color:#ff0a84;-webkit-text-stroke:0.3px #e8e8e8;">DC</span>
<span class="t s" style="left:1563.38px;top:1232.84px;font-size:44px;line-height:44px;transform:scaleX(0.7744);color:#ff0a84;-webkit-text-stroke:0.3px #e8e8e8;">10.0:1</span>
<span class="t s" style="left:1793.06px;top:1179.64px;font-size:44px;line-height:44px;transform:scaleX(0.8207);-webkit-text-stroke:0.3px #fff;">03:40</span>
<span class="t s" style="left:1893.8px;top:1179.64px;font-size:44px;line-height:44px;transform:scaleX(0.8);-webkit-text-stroke:0.3px #fff;">PM</span>
<span class="t s" style="left:1760.91px;top:1234.84px;font-size:44px;line-height:44px;transform:scaleX(0.8252);-webkit-text-stroke:0.3px #fff;">Mar</span>
<span class="t s" style="left:1836.2px;top:1234.84px;font-size:44px;line-height:44px;transform:scaleX(0.7982);-webkit-text-stroke:0.3px #fff;">06,</span>
<span class="t s" style="left:1897.24px;top:1234.84px;font-size:44px;line-height:44px;transform:scaleX(0.8256);-webkit-text-stroke:0.3px #fff;">2023</span>
</div>
<div class="channel-markers">
<span class="t s" style="left:43.01px;top:244.6px;font-size:30px;line-height:30px;transform:scaleX(1.0471);color:#ff9900;">T</span>
<span class="t s" style="left:22.46px;top:869.52px;font-size:37px;line-height:37px;transform:scaleX(0.848);color:#ff0a84;">4</span>
<span class="t s" style="left:21.94px;top:1047.92px;font-size:37px;line-height:37px;transform:scaleX(0.7714);color:#5a78ff;">3</span>
<span class="t s" style="left:27.9px;top:1080.8px;font-size:40px;line-height:40px;transform:scaleX(0.8163);clip-path:inset(0 0 9.3px 0);color:#ff9900;">1</span>
</div>
<div class="annotations">
<span class="t ri" style="left:113.7px;top:1053.36px;font-size:68px;line-height:68px;transform:scaleX(1.0017);color:#000;">v</span>
<span class="t ri" style="left:141.66px;top:1093.63px;font-size:39px;line-height:39px;transform:scaleX(1.0706);color:#000;">o</span>
<span class="t r" style="left:257.8px;top:1075.29px;font-size:50.5px;line-height:50.5px;transform:scaleX(0.9982);color:#000;">3V/div</span>
<span class="t ri" style="left:621.14px;top:1055.36px;font-size:68px;line-height:68px;transform:scaleX(1.05);color:#000;">i</span>
<span class="t ri" style="left:641.13px;top:1095.63px;font-size:39px;line-height:39px;transform:scaleX(1.0667);color:#000;">L</span>
<span class="t r" style="left:741.18px;top:1070.29px;font-size:50.5px;line-height:50.5px;transform:scaleX(1.0061);color:#000;">300mV/div(1.2V/A)</span>
<span class="t r" style="left:1463.18px;top:1074.09px;font-size:50.5px;line-height:50.5px;transform:scaleX(1.0064);color:#000;">500ms/div</span>
</div>
</div>
</div>
</body>
</html>
